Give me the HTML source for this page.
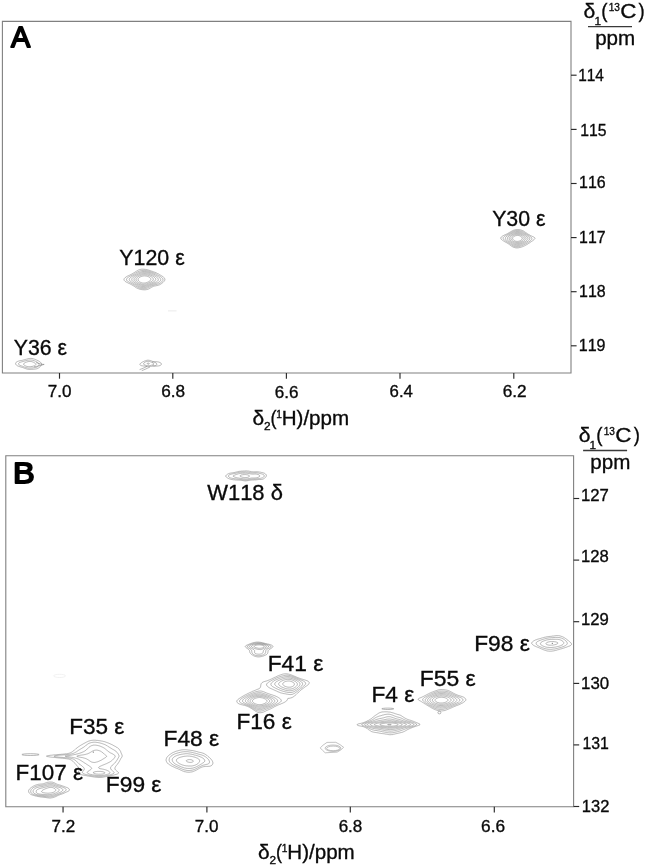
<!DOCTYPE html>
<html lang="en"><head><meta charset="utf-8"><title>Aromatic 13C-1H correlation spectra</title>
<style>html,body{margin:0;padding:0;background:#fff}svg{display:block}text{font-family:"Liberation Sans", "DejaVu Sans", sans-serif;fill:#0a0a0a;stroke:#0a0a0a;stroke-width:.34;font-kerning:none}.fr{fill:none;stroke:#808080;stroke-width:1.1}.tk{stroke:#2a2a2a;stroke-width:1.15}.c{fill:none;stroke:#747474;stroke-width:.52;stroke-linejoin:round}.cl{fill:none;stroke:#9a9a9a;stroke-width:.6;stroke-linejoin:round}.cf{fill:none;stroke:#dcdcdc;stroke-width:.6}.pl{fill:#000;stroke:#000;stroke-width:1.8;stroke-linejoin:round;stroke-linecap:round}</style></head><body>
<svg width="645" height="868" viewBox="0 0 645 868">
<rect width="645" height="868" fill="#fff"/>
<path class="fr" d="M2.40 21.40H571.00V373.00H2.40Z"/>
<text class="pl" x="10.94" y="47.40" font-size="29.80" textLength="19.21" lengthAdjust="spacingAndGlyphs">A</text>
<text x="583.61" y="18.20" font-size="20.80" textLength="11.79" lengthAdjust="spacingAndGlyphs">δ</text>
<text x="594.46" y="25.30" font-size="11.80">1</text>
<text x="601.13" y="18.20" font-size="20.80" textLength="6.28" lengthAdjust="spacingAndGlyphs">(</text>
<text x="608.63" y="11.40" font-size="10.40" textLength="11.21" lengthAdjust="spacingAndGlyphs">13</text>
<text x="620.16" y="18.20" font-size="20.80" textLength="16.19" lengthAdjust="spacingAndGlyphs">C</text>
<text x="638.59" y="18.20" font-size="20.80" textLength="6.15" lengthAdjust="spacingAndGlyphs">)</text>
<line x1="588.00" y1="26.60" x2="632.00" y2="26.60" stroke="#3a3a3a" stroke-width="1.3"/>
<text x="595.17" y="44.80" font-size="20.80" textLength="40.09" lengthAdjust="spacingAndGlyphs">ppm</text>
<line class="tk" x1="571.00" y1="75.20" x2="576.60" y2="75.20"/>
<line class="tk" x1="571.00" y1="129.40" x2="576.60" y2="129.40"/>
<line class="tk" x1="571.00" y1="183.50" x2="576.60" y2="183.50"/>
<line class="tk" x1="571.00" y1="237.60" x2="576.60" y2="237.60"/>
<line class="tk" x1="571.00" y1="291.70" x2="576.60" y2="291.70"/>
<line class="tk" x1="571.00" y1="345.80" x2="576.60" y2="345.80"/>
<text x="578.13" y="81.00" font-size="17.20" textLength="25.73" lengthAdjust="spacingAndGlyphs">114</text>
<text x="580.30" y="136.20" font-size="17.20" textLength="26.26" lengthAdjust="spacingAndGlyphs">115</text>
<text x="579.08" y="187.80" font-size="17.20" textLength="26.62" lengthAdjust="spacingAndGlyphs">116</text>
<text x="579.09" y="243.30" font-size="17.20" textLength="26.51" lengthAdjust="spacingAndGlyphs">117</text>
<text x="579.09" y="296.70" font-size="17.20" textLength="26.61" lengthAdjust="spacingAndGlyphs">118</text>
<text x="578.78" y="350.80" font-size="17.20" textLength="26.78" lengthAdjust="spacingAndGlyphs">119</text>
<line class="tk" x1="59.50" y1="373.00" x2="59.50" y2="378.70"/>
<line class="tk" x1="172.80" y1="373.00" x2="172.80" y2="378.70"/>
<line class="tk" x1="286.40" y1="373.00" x2="286.40" y2="378.70"/>
<line class="tk" x1="400.00" y1="373.00" x2="400.00" y2="378.70"/>
<line class="tk" x1="513.80" y1="373.00" x2="513.80" y2="378.70"/>
<text x="47.72" y="396.80" font-size="17.20" textLength="23.74" lengthAdjust="spacingAndGlyphs">7.0</text>
<text x="161.13" y="397.00" font-size="17.20" textLength="23.92" lengthAdjust="spacingAndGlyphs">6.8</text>
<text x="274.83" y="398.30" font-size="17.20" textLength="23.72" lengthAdjust="spacingAndGlyphs">6.6</text>
<text x="389.55" y="397.10" font-size="17.20" textLength="23.34" lengthAdjust="spacingAndGlyphs">6.4</text>
<text x="502.73" y="397.30" font-size="17.20" textLength="23.94" lengthAdjust="spacingAndGlyphs">6.2</text>
<text x="252.42" y="424.80" font-size="20.60" textLength="11.67" lengthAdjust="spacingAndGlyphs">δ</text>
<text x="264.00" y="430.40" font-size="11.60" textLength="6.59" lengthAdjust="spacingAndGlyphs">2</text>
<text x="270.48" y="424.80" font-size="20.60" textLength="6.03" lengthAdjust="spacingAndGlyphs">(</text>
<text x="276.22" y="417.80" font-size="10.20">1</text>
<text x="281.71" y="424.80" font-size="20.60" textLength="67.44" lengthAdjust="spacingAndGlyphs">H)/ppm</text>
<path class="c" d="M140.6 269.4 141.1 269.3 141.8 269.2 142.6 269.2 143.4 269.2 144.2 269.3 144.9 269.3 145.5 269.4 146.1 269.5 146.9 269.6 147.6 269.8 148.0 269.9 148.8 270.2 149.2 270.3 150.0 270.5 150.4 270.7 151.1 270.9 151.5 271.1 152.3 271.3 152.7 271.5 153.5 271.8 153.8 271.9 154.6 272.2 155.0 272.3 155.8 272.6 156.2 272.8 156.8 273.1 157.3 273.4 157.7 273.6 158.4 273.9 158.9 274.2 159.3 274.5 159.8 274.8 160.4 275.1 160.8 275.4 161.2 275.6 161.9 276.0 162.4 276.3 162.8 276.6 163.2 276.8 163.7 277.3 164.1 277.7 164.4 278.1 164.7 278.6 164.9 279.3 164.8 280.1 164.6 280.6 164.3 281.0 163.9 281.5 163.5 281.9 163.1 282.3 162.8 282.6 162.3 283.0 161.7 283.5 161.2 283.8 160.8 284.1 160.4 284.3 159.7 284.7 159.3 284.9 158.6 285.1 158.1 285.3 157.3 285.5 156.9 285.6 156.2 285.7 155.4 285.9 155.0 285.9 154.2 286.1 153.5 286.3 153.1 286.5 152.5 286.8 151.9 287.1 151.5 287.3 151.0 287.6 150.4 288.0 150.0 288.2 149.6 288.5 148.9 288.8 148.4 289.1 148.0 289.2 147.3 289.5 146.5 289.6 146.1 289.7 145.3 289.8 144.5 289.8 143.8 289.8 143.0 289.7 142.3 289.7 141.8 289.6 141.1 289.5 140.3 289.3 139.9 289.2 139.1 289.0 138.6 288.8 138.0 288.6 137.6 288.4 136.8 288.0 136.4 287.8 136.0 287.5 135.4 287.2 134.9 286.8 134.5 286.5 134.1 286.3 133.6 285.9 133.0 285.5 132.5 285.3 132.1 285.0 131.5 284.7 131.0 284.4 130.6 284.2 129.9 283.9 129.4 283.6 129.0 283.5 128.3 283.1 127.9 282.9 127.3 282.6 126.7 282.3 126.3 282.1 125.8 281.8 125.2 281.4 124.8 281.0 124.4 280.6 124.1 280.1 124.0 279.7 124.0 279.2 124.3 278.5 124.6 278.1 125.0 277.7 125.6 277.3 125.9 277.0 126.3 276.8 126.9 276.4 127.5 276.1 127.9 275.9 128.6 275.6 129.0 275.4 129.5 275.2 130.2 274.8 130.6 274.6 131.2 274.4 131.8 274.0 132.1 273.8 132.7 273.5 133.3 273.2 133.7 272.9 134.1 272.7 134.7 272.3 135.2 271.9 135.6 271.7 136.0 271.4 136.6 271.1 137.2 270.7 137.6 270.5 138.1 270.2 138.7 269.9 139.1 269.8 139.9 269.5 140.6 269.4ZM141.0 270.6 141.4 270.6 142.2 270.5 143.0 270.4 143.8 270.4 144.5 270.4 145.3 270.5 146.1 270.6 146.6 270.6 147.3 270.8 148.0 270.9 148.4 271.1 149.2 271.3 149.8 271.5 150.4 271.7 151.0 271.9 151.5 272.1 152.0 272.3 152.7 272.5 153.1 272.7 153.8 273.0 154.2 273.2 155.0 273.5 155.4 273.7 155.9 273.9 156.6 274.3 156.9 274.5 157.4 274.8 158.1 275.2 158.5 275.4 158.9 275.6 159.5 276.0 160.0 276.3 160.4 276.6 160.8 276.8 161.4 277.3 161.9 277.7 162.4 278.1 162.7 278.5 162.9 278.9 163.0 279.7 162.8 280.6 162.5 281.0 162.2 281.4 161.8 281.8 161.3 282.2 160.8 282.6 160.4 282.9 160.0 283.1 159.4 283.5 158.9 283.7 158.5 283.9 157.7 284.1 157.2 284.3 156.6 284.5 155.8 284.6 155.4 284.7 154.6 284.9 154.0 285.1 153.5 285.3 152.8 285.5 152.3 285.7 151.8 285.9 151.1 286.3 150.7 286.5 150.2 286.8 149.6 287.1 149.2 287.3 148.6 287.6 148.0 287.9 147.6 288.0 146.9 288.3 146.4 288.4 145.7 288.6 144.9 288.7 144.2 288.7 143.4 288.7 142.6 288.6 141.8 288.5 141.3 288.4 140.7 288.3 139.9 288.1 139.5 288.0 138.7 287.7 138.3 287.5 137.7 287.2 137.2 286.9 136.8 286.7 136.2 286.3 135.6 286.0 135.2 285.7 134.9 285.5 134.3 285.1 133.7 284.7 133.3 284.5 132.9 284.3 132.3 283.9 131.8 283.6 131.4 283.4 130.8 283.0 130.2 282.7 129.8 282.5 129.2 282.2 128.7 281.9 128.3 281.6 127.9 281.4 127.3 281.0 126.9 280.6 126.6 280.1 126.5 279.3 126.7 278.7 127.1 278.2 127.5 277.8 127.9 277.5 128.3 277.3 128.9 276.8 129.4 276.6 129.8 276.3 130.4 276.0 131.0 275.7 131.4 275.5 132.0 275.2 132.5 274.9 132.9 274.7 133.4 274.4 134.1 274.0 134.5 273.8 134.9 273.5 135.5 273.1 136.0 272.8 136.4 272.6 136.9 272.3 137.6 271.9 138.0 271.7 138.5 271.5 139.1 271.2 139.5 271.1 140.3 270.8 141.0 270.6ZM141.0 271.9 141.4 271.8 142.2 271.6 143.0 271.5 143.8 271.5 144.5 271.5 145.3 271.5 146.1 271.6 146.9 271.7 147.6 271.9 148.0 272.0 148.8 272.2 149.2 272.3 150.0 272.6 150.4 272.7 151.1 273.0 151.5 273.1 152.3 273.5 152.7 273.6 153.4 273.9 153.8 274.2 154.2 274.4 155.0 274.8 155.4 275.0 155.8 275.2 156.5 275.6 156.9 275.9 157.3 276.1 157.8 276.4 158.5 276.8 158.9 277.2 159.3 277.5 159.7 277.8 160.0 278.2 160.4 278.6 160.8 279.3 160.7 280.1 160.4 280.8 160.0 281.2 159.7 281.6 159.3 281.9 158.8 282.2 158.1 282.6 157.7 282.8 157.1 283.0 156.6 283.2 155.9 283.5 155.4 283.6 154.6 283.8 154.2 284.0 153.5 284.2 153.1 284.4 152.3 284.7 151.9 284.8 151.2 285.1 150.7 285.3 150.4 285.5 149.6 285.9 149.2 286.1 148.7 286.3 148.0 286.7 147.6 286.8 146.9 287.1 146.5 287.2 145.7 287.4 144.9 287.5 144.2 287.6 143.8 287.6 143.4 287.6 142.6 287.5 141.8 287.4 141.1 287.3 140.6 287.2 139.9 286.9 139.4 286.8 138.7 286.5 138.3 286.3 137.7 285.9 137.2 285.7 136.8 285.4 136.3 285.1 135.6 284.7 135.2 284.5 134.9 284.2 134.3 283.9 133.7 283.5 133.3 283.2 132.9 283.0 132.4 282.6 131.8 282.2 131.4 282.0 131.0 281.7 130.6 281.4 130.1 281.0 129.7 280.6 129.4 280.1 129.2 279.3 129.4 278.8 129.8 278.2 130.2 277.8 130.6 277.5 131.0 277.2 131.5 276.8 132.1 276.4 132.5 276.2 132.9 276.0 133.5 275.6 134.1 275.2 134.5 275.0 134.9 274.8 135.6 274.4 136.0 274.1 136.4 273.9 137.0 273.5 137.6 273.2 138.0 273.0 138.6 272.7 139.1 272.5 139.7 272.3 140.3 272.1 141.0 271.9ZM142.6 272.7 143.0 272.7 143.8 272.6 144.5 272.6 145.3 272.6 146.1 272.7 146.5 272.7 147.3 272.8 148.0 273.0 148.4 273.1 149.2 273.3 149.7 273.5 150.4 273.8 150.8 273.9 151.5 274.3 151.9 274.4 152.6 274.8 153.1 275.0 153.5 275.2 154.2 275.6 154.6 275.9 155.0 276.1 155.5 276.4 156.1 276.8 156.6 277.2 156.9 277.5 157.3 277.8 157.7 278.3 158.1 278.8 158.3 279.3 158.2 280.1 158.0 280.6 157.6 281.0 157.1 281.4 156.6 281.8 156.2 282.0 155.7 282.2 155.0 282.5 154.6 282.7 153.8 283.0 153.5 283.1 152.7 283.4 152.3 283.6 151.7 283.9 151.1 284.1 150.7 284.3 150.0 284.6 149.6 284.8 149.0 285.1 148.4 285.4 148.0 285.5 147.3 285.8 146.9 286.0 146.1 286.2 145.4 286.3 144.9 286.4 144.2 286.5 143.4 286.5 142.6 286.5 141.9 286.3 141.4 286.3 140.7 286.1 140.3 285.9 139.5 285.7 139.1 285.5 138.4 285.1 138.0 284.9 137.6 284.7 136.9 284.3 136.4 284.0 136.0 283.7 135.6 283.4 135.0 283.0 134.5 282.6 134.1 282.4 133.7 282.1 133.3 281.7 132.9 281.4 132.5 281.0 132.1 280.6 131.8 279.7 131.9 278.9 132.1 278.4 132.5 277.9 132.9 277.5 133.3 277.2 133.8 276.8 134.3 276.4 134.9 276.1 135.2 275.8 135.6 275.6 136.3 275.2 136.8 274.9 137.2 274.7 137.7 274.4 138.3 274.1 138.7 273.9 139.5 273.5 139.9 273.4 140.7 273.1 141.1 273.0 141.8 272.8 142.6 272.7ZM141.9 273.9 142.6 273.8 143.4 273.7 144.2 273.6 144.9 273.6 145.7 273.7 146.5 273.8 147.3 273.9 147.6 274.0 148.4 274.2 148.9 274.4 149.6 274.6 150.0 274.8 150.7 275.1 151.1 275.3 151.8 275.6 152.3 275.9 152.7 276.1 153.2 276.4 153.8 276.8 154.2 277.2 154.6 277.5 155.0 277.9 155.4 278.3 155.7 278.9 155.8 279.7 155.4 280.4 155.0 280.8 154.6 281.1 154.2 281.4 153.6 281.8 153.1 282.1 152.7 282.3 151.9 282.6 151.5 282.8 151.1 283.0 150.4 283.4 150.0 283.6 149.3 283.9 148.8 284.1 148.4 284.3 147.6 284.6 147.3 284.7 146.5 285.0 146.0 285.1 145.3 285.3 144.5 285.4 143.8 285.4 143.0 285.4 142.2 285.3 141.4 285.1 141.1 285.0 140.3 284.8 139.9 284.6 139.1 284.3 138.7 284.1 138.3 283.9 137.6 283.5 137.2 283.2 136.8 282.9 136.4 282.6 135.9 282.2 135.4 281.8 134.9 281.4 134.6 281.0 134.3 280.6 134.1 280.1 134.0 279.3 134.1 278.8 134.5 278.1 134.9 277.7 135.2 277.3 135.6 277.0 136.0 276.7 136.4 276.4 137.0 276.0 137.6 275.7 138.0 275.5 138.5 275.2 139.1 274.9 139.5 274.7 140.3 274.4 140.7 274.3 141.4 274.1 141.9 273.9ZM143.9 274.8 144.5 274.7 145.3 274.8 145.7 274.8 146.5 274.9 147.3 275.0 147.8 275.2 148.4 275.4 149.1 275.6 149.6 275.8 150.0 276.0 150.7 276.4 151.1 276.6 151.5 276.9 152.0 277.3 152.5 277.7 152.9 278.1 153.1 278.5 153.3 279.3 153.1 280.1 152.7 280.6 152.3 281.0 151.9 281.2 151.5 281.5 151.0 281.8 150.4 282.2 150.0 282.4 149.5 282.6 148.8 283.0 148.4 283.1 147.6 283.5 147.3 283.6 146.5 283.9 146.1 284.0 145.3 284.1 144.5 284.2 143.8 284.3 143.8 284.3 143.0 284.3 142.2 284.2 141.4 284.0 141.1 283.9 140.3 283.6 139.9 283.4 139.2 283.0 138.7 282.8 138.3 282.5 137.9 282.2 137.4 281.8 136.9 281.4 136.6 281.0 136.3 280.6 136.0 279.9 136.0 279.3 136.1 278.9 136.4 278.3 136.8 277.8 137.2 277.4 137.6 277.1 138.0 276.8 138.6 276.4 139.1 276.1 139.5 275.9 140.3 275.6 140.7 275.5 141.4 275.2 141.8 275.1 142.6 274.9 143.4 274.8 143.9 274.8ZM143.4 276.0 144.2 275.9 144.9 275.9 145.7 276.0 146.1 276.0 146.9 276.2 147.6 276.4 148.0 276.6 148.7 276.8 149.2 277.1 149.6 277.4 150.0 277.7 150.4 278.1 150.7 278.6 150.9 279.3 150.7 279.9 150.4 280.4 150.0 280.8 149.6 281.1 149.2 281.4 148.5 281.8 148.0 282.0 147.6 282.2 146.9 282.5 146.5 282.6 145.7 282.9 144.9 283.0 144.5 283.0 143.8 283.1 143.1 283.0 142.6 283.0 141.8 282.8 141.3 282.6 140.7 282.4 140.3 282.2 139.6 281.8 139.1 281.4 138.7 281.0 138.4 280.6 138.2 280.1 138.1 279.3 138.3 278.6 138.7 278.1 139.1 277.7 139.5 277.4 139.9 277.2 140.5 276.8 141.1 276.6 141.6 276.4 142.2 276.2 143.0 276.1 143.4 276.0Z"/>
<path class="c" d="M514.8 229.9 515.5 229.7 516.2 229.6 516.9 229.5 517.6 229.5 518.3 229.5 519.0 229.6 519.7 229.7 520.4 229.8 520.7 229.9 521.4 230.1 521.8 230.3 522.5 230.5 522.8 230.7 523.5 231.0 523.8 231.2 524.2 231.5 524.7 231.8 525.2 232.2 525.6 232.4 525.9 232.7 526.4 233.0 526.9 233.4 527.3 233.6 527.7 233.9 528.1 234.1 528.7 234.5 529.1 234.7 529.5 234.9 530.1 235.3 530.5 235.5 531.0 235.7 531.5 236.0 531.9 236.2 532.6 236.5 532.9 236.7 533.4 236.9 534.0 237.2 534.3 237.4 534.7 237.7 535.0 238.4 534.7 239.0 534.3 239.4 534.0 239.7 533.6 240.0 533.1 240.4 532.6 240.8 532.2 241.0 531.9 241.2 531.4 241.6 530.9 241.9 530.5 242.2 530.1 242.5 529.8 242.7 529.2 243.1 528.7 243.4 528.4 243.6 528.0 243.9 527.4 244.3 527.0 244.5 526.6 244.7 526.0 245.1 525.6 245.3 525.2 245.5 524.6 245.8 524.2 246.0 523.7 246.2 523.2 246.5 522.8 246.6 522.1 246.9 521.7 247.0 521.1 247.2 520.4 247.4 520.0 247.5 519.3 247.6 518.6 247.8 518.3 247.8 517.6 247.9 516.9 247.9 516.2 247.9 515.5 247.8 515.1 247.7 514.4 247.5 514.0 247.4 513.4 247.2 513.0 247.0 512.3 246.6 512.0 246.4 511.6 246.2 511.1 245.8 510.6 245.5 510.2 245.2 509.9 244.9 509.5 244.7 509.0 244.3 508.5 243.9 508.1 243.7 507.8 243.5 507.2 243.1 506.7 242.8 506.4 242.6 505.8 242.3 505.4 242.1 505.0 241.9 504.5 241.6 504.0 241.3 503.6 241.0 503.2 240.8 502.6 240.4 502.2 240.1 501.9 239.8 501.5 239.5 501.2 239.1 500.8 238.4 500.8 238.0 500.9 237.7 501.2 237.2 501.5 236.8 501.9 236.5 502.5 236.1 502.9 235.8 503.3 235.6 503.9 235.3 504.3 235.1 504.7 234.9 505.4 234.6 505.7 234.5 506.4 234.2 506.7 234.0 507.2 233.8 507.8 233.4 508.1 233.2 508.6 233.0 509.2 232.6 509.5 232.4 509.9 232.2 510.6 231.8 510.9 231.6 511.3 231.4 511.9 231.0 512.3 230.8 512.7 230.6 513.4 230.3 513.7 230.2 514.4 230.0 514.8 229.9ZM515.7 230.6 516.2 230.6 516.9 230.5 517.6 230.5 518.3 230.5 519.0 230.6 519.3 230.6 520.0 230.8 520.7 231.0 521.1 231.1 521.8 231.3 522.1 231.5 522.8 231.8 523.2 232.0 523.6 232.2 524.2 232.6 524.5 232.8 524.9 233.0 525.4 233.4 525.9 233.7 526.3 233.9 526.6 234.2 527.2 234.5 527.7 234.9 528.0 235.1 528.4 235.3 529.0 235.7 529.4 236.0 529.8 236.2 530.2 236.5 530.8 236.9 531.2 237.2 531.5 237.6 531.8 238.0 531.9 238.4 531.9 239.0 531.6 239.6 531.2 240.0 530.9 240.4 530.5 240.7 530.1 241.0 529.8 241.3 529.4 241.6 528.9 241.9 528.4 242.3 528.0 242.5 527.7 242.7 527.1 243.1 526.6 243.4 526.3 243.6 525.7 243.9 525.2 244.1 524.9 244.3 524.2 244.6 523.8 244.8 523.3 245.1 522.8 245.3 522.4 245.5 521.8 245.7 521.4 245.9 520.7 246.1 520.3 246.2 519.7 246.4 519.0 246.6 518.6 246.7 517.9 246.8 517.2 246.8 516.5 246.8 515.8 246.8 515.1 246.6 514.8 246.6 514.1 246.3 513.7 246.2 513.0 245.8 512.7 245.7 512.3 245.4 511.7 245.1 511.3 244.7 510.9 244.5 510.6 244.2 510.1 243.9 509.6 243.5 509.2 243.3 508.8 243.0 508.4 242.7 507.8 242.3 507.4 242.1 507.1 241.9 506.5 241.6 506.0 241.3 505.7 241.0 505.3 240.8 504.7 240.4 504.3 240.1 504.0 239.8 503.6 239.4 503.3 238.9 503.1 238.4 503.2 237.7 503.4 237.3 503.8 236.9 504.3 236.5 504.7 236.2 505.0 236.0 505.5 235.7 506.0 235.4 506.4 235.2 507.0 234.9 507.4 234.6 507.8 234.5 508.3 234.1 508.8 233.8 509.2 233.6 509.6 233.4 510.2 233.0 510.6 232.8 510.9 232.6 511.6 232.2 512.0 232.0 512.4 231.8 513.0 231.5 513.4 231.3 514.1 231.1 514.4 231.0 515.1 230.8 515.7 230.6ZM514.9 231.8 515.5 231.7 516.2 231.5 516.9 231.5 517.6 231.5 518.3 231.5 519.0 231.6 519.7 231.7 520.1 231.8 520.7 232.0 521.3 232.2 521.8 232.4 522.2 232.6 522.8 232.9 523.2 233.1 523.7 233.4 524.2 233.7 524.5 233.9 525.0 234.1 525.6 234.5 525.9 234.8 526.3 235.0 526.8 235.3 527.3 235.7 527.7 236.0 528.0 236.2 528.4 236.5 528.8 236.9 529.2 237.3 529.5 237.7 529.8 238.2 529.8 238.8 529.7 239.2 529.4 239.8 529.1 240.2 528.7 240.5 528.4 240.8 528.0 241.2 527.4 241.6 527.0 241.8 526.6 242.1 526.2 242.3 525.6 242.7 525.2 242.8 524.7 243.1 524.2 243.4 523.8 243.6 523.2 243.9 522.8 244.1 522.3 244.3 521.8 244.5 521.4 244.7 520.7 245.0 520.4 245.1 519.7 245.3 519.2 245.5 518.6 245.6 517.9 245.7 517.2 245.8 516.5 245.8 515.8 245.7 515.1 245.5 514.8 245.4 514.1 245.2 513.7 245.0 513.0 244.7 512.7 244.5 512.3 244.3 511.8 243.9 511.3 243.6 510.9 243.3 510.6 243.1 510.1 242.7 509.6 242.3 509.2 242.1 508.8 241.8 508.4 241.6 507.9 241.2 507.4 240.9 507.1 240.6 506.7 240.4 506.3 240.0 505.9 239.6 505.6 239.2 505.4 238.7 505.3 238.0 505.5 237.7 505.7 237.3 506.1 236.9 506.5 236.5 507.1 236.1 507.4 235.8 507.8 235.6 508.2 235.3 508.8 234.9 509.2 234.7 509.5 234.5 510.0 234.1 510.6 233.8 510.9 233.6 511.4 233.4 512.0 233.0 512.3 232.8 512.8 232.6 513.4 232.3 513.7 232.2 514.4 231.9 514.9 231.8ZM515.8 232.6 516.2 232.5 516.9 232.4 517.6 232.4 518.3 232.5 519.0 232.6 519.3 232.6 520.0 232.8 520.6 233.0 521.1 233.1 521.6 233.4 522.1 233.6 522.5 233.8 523.2 234.1 523.5 234.3 523.8 234.5 524.5 234.9 524.9 235.2 525.2 235.4 525.6 235.7 526.2 236.1 526.6 236.5 527.0 236.8 527.3 237.2 527.7 237.7 527.9 238.0 528.0 238.8 527.7 239.5 527.3 240.0 527.0 240.3 526.6 240.6 526.3 240.9 525.9 241.2 525.3 241.6 524.9 241.8 524.5 242.0 523.9 242.3 523.5 242.6 523.2 242.7 522.5 243.1 522.1 243.2 521.5 243.5 521.1 243.7 520.6 243.9 520.0 244.1 519.5 244.3 519.0 244.4 518.3 244.6 517.6 244.7 517.2 244.7 516.6 244.7 516.2 244.6 515.5 244.5 514.8 244.3 514.4 244.2 513.8 243.9 513.4 243.7 513.0 243.5 512.4 243.1 512.0 242.9 511.6 242.6 511.2 242.3 510.7 241.9 510.2 241.6 509.9 241.4 509.5 241.1 509.1 240.8 508.7 240.4 508.3 240.0 507.9 239.6 507.6 239.2 507.4 238.8 507.4 238.0 507.5 237.7 507.8 237.2 508.1 236.8 508.5 236.5 508.9 236.1 509.4 235.7 509.9 235.4 510.2 235.1 510.6 234.9 511.2 234.5 511.6 234.2 512.0 234.0 512.5 233.8 513.0 233.5 513.4 233.3 514.1 233.1 514.4 232.9 515.1 232.7 515.8 232.6ZM515.0 233.8 515.5 233.6 516.2 233.5 516.9 233.4 517.6 233.4 518.3 233.4 519.0 233.5 519.7 233.7 520.0 233.8 520.7 234.0 521.1 234.2 521.8 234.5 522.1 234.7 522.6 234.9 523.2 235.2 523.5 235.5 523.9 235.7 524.4 236.1 524.9 236.5 525.2 236.8 525.6 237.2 525.9 237.7 526.0 238.0 526.1 238.8 525.9 239.2 525.6 239.7 525.2 240.1 524.9 240.4 524.4 240.8 523.8 241.1 523.5 241.4 523.2 241.6 522.5 241.9 522.1 242.1 521.7 242.3 521.1 242.6 520.7 242.8 520.0 243.1 519.7 243.2 519.0 243.4 518.3 243.5 517.9 243.6 517.2 243.6 516.5 243.6 515.9 243.5 515.5 243.4 514.8 243.2 514.4 243.1 513.7 242.7 513.4 242.6 513.0 242.3 512.4 241.9 512.0 241.7 511.6 241.4 511.3 241.2 510.8 240.8 510.4 240.4 510.0 240.0 509.7 239.6 509.4 239.2 509.2 238.5 509.2 238.1 509.3 237.7 509.5 237.2 509.9 236.8 510.2 236.4 510.6 236.1 511.1 235.7 511.6 235.4 512.0 235.1 512.3 234.9 513.0 234.5 513.4 234.4 513.9 234.1 514.4 233.9 515.0 233.8ZM515.9 234.5 516.5 234.4 517.2 234.4 517.9 234.4 518.6 234.5 519.0 234.6 519.7 234.7 520.3 234.9 520.7 235.1 521.2 235.3 521.8 235.6 522.1 235.8 522.5 236.1 523.0 236.5 523.5 236.9 523.8 237.3 524.1 237.7 524.2 238.0 524.2 238.8 524.0 239.2 523.8 239.6 523.4 240.0 522.9 240.4 522.5 240.7 522.1 240.9 521.7 241.2 521.1 241.5 520.7 241.7 520.1 241.9 519.7 242.1 519.0 242.3 518.6 242.4 517.9 242.5 517.2 242.6 516.5 242.5 515.8 242.4 515.5 242.3 514.8 242.1 514.4 241.9 513.7 241.6 513.4 241.4 513.0 241.1 512.5 240.8 512.1 240.4 511.7 240.0 511.3 239.6 511.1 239.2 510.9 238.8 510.9 238.0 511.0 237.7 511.3 237.2 511.6 236.8 512.0 236.4 512.4 236.1 513.0 235.7 513.4 235.5 513.7 235.3 514.4 235.0 514.8 234.8 515.5 234.6 515.9 234.5ZM515.6 235.7 516.2 235.6 516.9 235.5 517.6 235.4 518.3 235.5 519.0 235.6 519.3 235.7 520.0 236.0 520.4 236.2 521.0 236.5 521.4 236.8 521.8 237.1 522.1 237.6 522.3 238.0 522.3 238.8 522.1 239.2 521.8 239.6 521.3 240.0 520.8 240.4 520.4 240.6 520.0 240.8 519.3 241.1 519.0 241.2 518.3 241.3 517.6 241.4 516.9 241.4 516.2 241.3 515.5 241.2 515.1 241.0 514.6 240.8 514.1 240.5 513.7 240.2 513.4 239.9 513.0 239.5 512.7 238.9 512.6 238.4 512.7 237.9 513.0 237.3 513.4 236.9 513.7 236.6 514.1 236.4 514.6 236.1 515.1 235.9 515.6 235.7Z"/>
<path class="c" d="M27.9 358.8 28.3 358.6 29.3 358.5 30.2 358.4 31.1 358.4 32.1 358.5 33.0 358.7 33.4 358.8 34.4 359.1 34.8 359.3 35.6 359.5 36.2 359.8 36.7 360.1 37.2 360.3 38.0 360.7 38.6 361.0 39.0 361.3 39.5 361.6 40.0 361.9 40.5 362.3 40.9 362.7 41.4 363.4 41.5 363.9 41.4 364.7 41.3 365.1 40.9 365.8 40.5 366.3 40.2 366.7 39.8 367.0 39.4 367.4 38.8 367.8 38.2 368.2 37.6 368.5 37.2 368.7 36.2 368.9 35.6 369.0 34.8 369.1 33.9 369.2 33.0 369.2 32.1 369.3 31.1 369.3 30.2 369.4 29.3 369.4 28.3 369.3 27.4 369.2 26.8 369.0 26.0 368.8 25.5 368.6 24.6 368.3 24.2 368.1 23.4 367.8 22.8 367.6 22.3 367.4 21.4 367.2 20.9 367.0 20.0 366.8 19.5 366.6 18.6 366.3 18.1 366.1 17.6 365.9 16.9 365.5 16.4 365.1 16.0 364.7 15.8 364.3 15.6 363.5 15.8 362.9 16.2 362.3 16.7 361.9 17.2 361.7 17.6 361.4 18.5 361.1 19.0 361.0 20.0 360.7 20.4 360.6 21.4 360.5 21.9 360.3 22.8 360.2 23.7 359.9 24.2 359.8 25.1 359.6 25.5 359.4 26.4 359.2 26.9 359.0 27.9 358.8ZM27.3 360.3 27.9 360.2 28.8 360.1 29.7 360.0 30.7 360.0 31.6 360.1 32.5 360.2 33.0 360.3 33.9 360.6 34.4 360.8 35.2 361.1 35.8 361.4 36.2 361.6 36.7 361.9 37.4 362.3 37.9 362.7 38.4 363.1 38.7 363.5 39.0 364.2 39.1 364.7 39.0 365.1 38.6 365.8 38.2 366.3 37.7 366.7 37.2 366.9 36.7 367.2 35.9 367.4 35.3 367.6 34.4 367.7 33.4 367.8 33.0 367.9 32.1 368.0 31.1 368.0 30.2 368.1 29.3 368.1 28.3 368.1 27.4 367.9 26.9 367.8 26.0 367.6 25.5 367.4 24.6 367.1 24.2 366.9 23.5 366.7 22.8 366.4 22.3 366.2 21.4 365.9 20.9 365.7 20.2 365.5 19.5 365.1 19.0 364.8 18.6 364.3 18.5 363.9 18.6 363.4 19.0 362.9 19.5 362.6 20.2 362.3 20.9 362.1 21.5 361.9 22.3 361.7 23.0 361.5 23.7 361.3 24.4 361.1 25.1 360.9 25.8 360.7 26.5 360.5 27.3 360.3ZM28.7 361.5 29.3 361.5 30.2 361.5 30.8 361.5 31.6 361.6 32.5 361.9 33.0 362.1 33.6 362.3 34.3 362.7 34.8 363.1 35.3 363.5 35.6 363.9 35.8 364.3 35.8 364.7 35.3 365.3 34.8 365.6 34.4 365.9 33.4 366.1 33.0 366.3 32.1 366.4 31.1 366.6 30.3 366.7 29.7 366.7 28.8 366.7 28.3 366.6 27.4 366.5 26.5 366.3 26.0 366.1 25.5 365.9 24.8 365.5 24.2 365.1 23.8 364.7 23.6 364.3 23.7 363.8 24.2 363.2 24.6 362.9 25.1 362.6 25.8 362.3 26.5 362.1 26.9 361.9 27.9 361.7 28.7 361.5Z"/>
<path class="c" d="M36 362.6C39 363.4 41.5 364.6 44.2 364.4M34 366.8C37 366.4 40 365.6 44.2 364.4"/>
<path class="c" d="M146.7 360.4 147.1 360.3 147.8 360.2 148.4 360.2 149.1 360.3 149.7 360.4 150.1 360.5 150.8 360.7 151.1 360.8 151.8 361.1 152.1 361.2 152.8 361.5 153.1 361.6 153.8 361.9 154.1 362.0 154.8 362.3 155.1 362.5 155.8 362.8 156.1 363.1 156.5 363.4 156.8 364.1 156.6 364.9 156.2 365.3 155.8 365.5 155.4 365.7 154.8 365.9 154.1 366.1 153.5 366.1 153.1 366.2 152.5 366.2 151.8 366.3 151.1 366.3 150.4 366.4 149.8 366.5 149.4 366.5 148.8 366.6 148.1 366.6 147.4 366.6 147.1 366.5 146.4 366.4 145.8 366.3 145.1 366.2 144.8 366.1 144.1 366.0 143.4 366.0 142.8 365.9 142.1 365.8 141.5 365.7 141.1 365.6 140.5 365.3 140.1 364.9 139.9 364.5 140.1 363.9 140.4 363.5 140.7 363.2 141.2 362.8 141.7 362.5 142.1 362.3 142.5 362.0 143.1 361.7 143.4 361.6 144.1 361.3 144.4 361.1 145.1 360.9 145.4 360.8 146.1 360.5 146.7 360.4ZM146.3 361.6 146.8 361.5 147.4 361.4 148.1 361.3 148.8 361.4 149.4 361.5 149.9 361.6 150.4 361.8 151.0 362.0 151.4 362.2 151.9 362.4 152.5 362.7 152.8 362.9 153.3 363.3 153.7 363.7 153.5 364.5 153.1 364.7 152.6 364.9 152.1 365.0 151.4 365.2 151.1 365.3 150.4 365.5 149.8 365.6 149.1 365.7 148.4 365.7 147.8 365.7 147.1 365.6 146.4 365.5 145.9 365.3 145.4 365.2 144.8 364.9 144.4 364.8 143.9 364.5 143.5 364.1 143.7 363.3 144.1 362.8 144.4 362.6 144.8 362.3 145.3 362.0 145.8 361.8 146.3 361.6ZM147.4 363.3 147.4 363.2 147.8 363.1 148.1 363.1 148.4 363.1 148.8 363.1 149.1 363.3 149.1 363.3 149.4 363.7 149.1 363.9 148.9 364.1 148.8 364.1 148.4 364.2 148.1 364.2 147.8 364.1 147.6 364.1 147.4 363.9 147.2 363.7 147.4 363.3Z"/>
<path class="c" d="M152 362.2C155 361.3 160.6 361.6 161.4 363.8C161.8 366 156.5 366.6 152.5 365.6M147 366.4C144.5 367.8 141.5 368.9 139.6 369.6M150 367C146.8 368.6 143.6 370 141.8 370.6"/>
<line class="cf" x1="168" y1="310.9" x2="176.5" y2="310.9" stroke-width="1"/>
<text x="119.33" y="264.90" font-size="21.80" textLength="65.38" lengthAdjust="spacingAndGlyphs">Y120 ε</text>
<text x="492.13" y="226.10" font-size="21.80" textLength="53.27" lengthAdjust="spacingAndGlyphs">Y30 ε</text>
<text x="13.83" y="354.80" font-size="21.80" textLength="53.17" lengthAdjust="spacingAndGlyphs">Y36 ε</text>
<path class="fr" d="M5.80 455.70H573.60V806.70H5.80Z"/>
<text class="pl" x="12.93" y="482.60" font-size="29.80" textLength="21.68" lengthAdjust="spacingAndGlyphs">B</text>
<text x="578.71" y="442.10" font-size="20.80" textLength="11.79" lengthAdjust="spacingAndGlyphs">δ</text>
<text x="589.56" y="449.20" font-size="11.80">1</text>
<text x="596.23" y="442.10" font-size="20.80" textLength="6.28" lengthAdjust="spacingAndGlyphs">(</text>
<text x="603.73" y="435.30" font-size="10.40" textLength="11.21" lengthAdjust="spacingAndGlyphs">13</text>
<text x="615.26" y="442.10" font-size="20.80" textLength="16.19" lengthAdjust="spacingAndGlyphs">C</text>
<text x="633.69" y="442.10" font-size="20.80" textLength="6.15" lengthAdjust="spacingAndGlyphs">)</text>
<line x1="583.10" y1="450.50" x2="627.10" y2="450.50" stroke="#3a3a3a" stroke-width="1.3"/>
<text x="590.27" y="468.70" font-size="20.80" textLength="40.09" lengthAdjust="spacingAndGlyphs">ppm</text>
<line class="tk" x1="573.60" y1="498.50" x2="579.20" y2="498.50"/>
<line class="tk" x1="573.60" y1="560.10" x2="579.20" y2="560.10"/>
<line class="tk" x1="573.60" y1="621.70" x2="579.20" y2="621.70"/>
<line class="tk" x1="573.60" y1="683.40" x2="579.20" y2="683.40"/>
<line class="tk" x1="573.60" y1="744.90" x2="579.20" y2="744.90"/>
<line class="tk" x1="573.60" y1="806.50" x2="579.20" y2="806.50"/>
<text x="581.03" y="500.50" font-size="17.20" textLength="27.92" lengthAdjust="spacingAndGlyphs">127</text>
<text x="581.03" y="562.30" font-size="17.20" textLength="27.79" lengthAdjust="spacingAndGlyphs">128</text>
<text x="581.03" y="625.40" font-size="17.20" textLength="27.86" lengthAdjust="spacingAndGlyphs">129</text>
<text x="581.02" y="689.40" font-size="17.20" textLength="28.14" lengthAdjust="spacingAndGlyphs">130</text>
<text x="582.39" y="749.10" font-size="17.20" textLength="26.48" lengthAdjust="spacingAndGlyphs">131</text>
<text x="581.84" y="811.80" font-size="17.20" textLength="27.59" lengthAdjust="spacingAndGlyphs">132</text>
<line class="tk" x1="63.05" y1="806.70" x2="63.05" y2="812.40"/>
<line class="tk" x1="206.90" y1="806.70" x2="206.90" y2="812.40"/>
<line class="tk" x1="350.30" y1="806.70" x2="350.30" y2="812.40"/>
<line class="tk" x1="494.30" y1="806.70" x2="494.30" y2="812.40"/>
<text x="51.42" y="831.80" font-size="17.20" textLength="23.73" lengthAdjust="spacingAndGlyphs">7.2</text>
<text x="194.83" y="832.00" font-size="17.20" textLength="23.64" lengthAdjust="spacingAndGlyphs">7.0</text>
<text x="338.63" y="831.80" font-size="17.20" textLength="23.71" lengthAdjust="spacingAndGlyphs">6.8</text>
<text x="481.02" y="831.80" font-size="17.20" textLength="24.04" lengthAdjust="spacingAndGlyphs">6.6</text>
<text x="258.02" y="858.70" font-size="20.60" textLength="11.67" lengthAdjust="spacingAndGlyphs">δ</text>
<text x="269.60" y="864.30" font-size="11.60" textLength="6.59" lengthAdjust="spacingAndGlyphs">2</text>
<text x="276.08" y="858.70" font-size="20.60" textLength="6.03" lengthAdjust="spacingAndGlyphs">(</text>
<text x="281.82" y="851.70" font-size="10.20">1</text>
<text x="287.31" y="858.70" font-size="20.60" textLength="67.44" lengthAdjust="spacingAndGlyphs">H)/ppm</text>
<path class="c" d="M244.7 471.0 245.5 470.9 246.3 470.9 247.1 470.9 247.6 471.0 248.2 471.0 249.0 471.2 249.7 471.3 250.2 471.4 251.0 471.6 251.4 471.7 252.2 471.8 253.0 471.8 253.8 471.9 254.6 471.8 255.4 471.8 256.1 471.8 256.9 471.8 257.7 471.8 258.5 471.9 259.3 472.0 259.7 472.1 260.5 472.2 261.3 472.4 261.7 472.5 262.5 472.6 262.9 472.8 263.7 473.0 264.1 473.1 264.8 473.5 265.2 473.8 265.6 474.1 266.0 474.5 266.2 474.9 266.4 475.6 266.2 476.3 266.0 476.7 265.6 477.2 265.2 477.6 264.8 478.0 264.5 478.3 264.1 478.6 263.7 478.8 262.9 479.2 262.5 479.3 261.7 479.4 260.9 479.5 260.1 479.5 259.3 479.5 258.9 479.5 258.1 479.6 257.3 479.7 256.5 479.8 255.8 479.9 255.1 479.9 254.6 479.9 253.8 480.0 253.0 480.0 252.2 480.0 251.4 480.1 250.6 480.2 250.0 480.3 249.4 480.4 248.6 480.5 248.1 480.6 247.4 480.7 246.7 480.8 245.9 480.9 245.1 480.9 244.3 480.8 243.5 480.7 243.0 480.6 242.3 480.5 241.5 480.4 240.7 480.3 240.3 480.2 239.5 480.2 238.7 480.1 238.0 480.1 237.2 480.1 236.4 480.0 235.6 480.0 235.0 479.9 234.4 479.8 233.6 479.8 232.8 479.7 232.1 479.5 231.6 479.5 230.8 479.3 230.4 479.2 229.7 479.0 229.3 478.8 228.5 478.5 228.1 478.3 227.7 478.0 227.2 477.8 226.7 477.4 226.2 477.0 225.9 476.7 225.7 476.0 225.7 476.0 226.1 475.3 226.5 474.9 226.9 474.6 227.3 474.3 227.7 474.1 228.2 473.8 228.9 473.6 229.3 473.4 230.0 473.2 230.6 473.1 231.2 473.0 232.0 472.9 232.8 472.8 233.2 472.7 234.0 472.6 234.8 472.4 235.2 472.3 236.0 472.1 236.4 472.0 237.2 471.8 237.8 471.7 238.4 471.5 239.1 471.4 239.7 471.3 240.3 471.3 241.1 471.2 241.9 471.1 242.7 471.1 243.5 471.0 244.3 471.0 244.7 471.0ZM239.3 472.4 239.9 472.3 240.7 472.2 241.5 472.2 242.3 472.1 243.1 472.1 243.9 472.1 244.7 472.1 245.5 472.0 246.3 472.1 247.1 472.1 247.8 472.2 248.6 472.3 249.2 472.4 249.8 472.5 250.6 472.7 251.2 472.8 251.8 472.8 252.6 472.9 253.4 472.9 254.2 472.8 255.0 472.8 255.8 472.8 256.5 472.8 257.3 472.9 258.1 473.0 258.6 473.1 259.3 473.3 260.1 473.5 260.5 473.6 261.3 473.8 261.7 473.9 262.5 474.2 262.9 474.3 263.3 474.5 263.8 474.9 264.1 475.3 264.3 476.0 264.1 476.5 263.7 477.0 263.3 477.3 262.9 477.6 262.4 477.8 261.7 478.0 261.2 478.1 260.5 478.3 259.7 478.4 259.3 478.5 258.5 478.6 257.7 478.7 257.2 478.8 256.5 478.9 255.8 479.0 255.0 479.1 254.2 479.1 253.4 479.1 252.6 479.1 251.8 479.2 251.4 479.2 250.6 479.3 249.8 479.4 249.1 479.5 248.6 479.6 247.8 479.8 247.1 479.9 246.7 479.9 245.9 480.0 245.1 480.0 244.3 479.9 243.9 479.9 243.1 479.8 242.3 479.6 241.7 479.5 241.1 479.5 240.3 479.4 239.5 479.3 238.7 479.2 238.3 479.2 237.6 479.1 236.8 479.0 236.0 478.9 235.2 478.8 234.8 478.8 234.0 478.6 233.2 478.5 232.8 478.4 232.0 478.3 231.3 478.1 230.8 478.0 230.2 477.8 229.7 477.5 229.3 477.3 228.9 477.0 228.5 476.4 228.4 476.0 228.5 475.6 228.9 475.2 229.3 474.9 229.9 474.5 230.4 474.4 231.1 474.2 231.6 474.1 232.4 473.9 232.9 473.8 233.6 473.7 234.4 473.5 234.8 473.4 235.6 473.3 236.2 473.1 236.8 472.9 237.6 472.8 238.0 472.7 238.7 472.5 239.3 472.4ZM240.2 473.5 240.7 473.4 241.5 473.3 242.3 473.2 243.1 473.2 243.9 473.2 244.7 473.2 245.5 473.2 246.3 473.2 247.1 473.3 247.8 473.4 248.4 473.5 249.0 473.6 249.8 473.7 250.2 473.8 251.0 474.0 251.8 474.0 252.6 474.1 253.4 474.1 254.2 474.0 255.0 474.0 255.8 474.0 256.5 474.1 257.0 474.2 257.7 474.4 258.2 474.5 258.9 474.9 259.3 475.2 259.7 475.5 259.9 476.0 259.7 476.4 259.3 476.7 258.8 477.0 258.1 477.3 257.7 477.5 256.9 477.7 256.5 477.8 255.8 477.9 255.0 478.0 254.2 478.0 253.4 478.0 252.6 478.0 251.8 478.0 251.1 478.1 250.6 478.2 249.8 478.3 249.3 478.5 248.6 478.6 247.8 478.8 247.4 478.8 246.7 478.9 245.9 479.0 245.1 479.0 244.3 478.9 243.6 478.8 243.1 478.8 242.3 478.6 241.5 478.5 241.1 478.5 240.3 478.3 239.5 478.2 238.9 478.1 238.4 478.0 237.6 477.9 237.0 477.8 236.4 477.6 235.6 477.4 235.2 477.3 234.5 477.0 234.0 476.8 233.6 476.6 233.2 476.3 233.2 475.9 233.6 475.5 234.2 475.3 234.8 475.0 235.2 474.9 236.0 474.6 236.4 474.4 237.2 474.2 237.6 474.1 238.4 473.8 238.7 473.8 239.5 473.6 240.2 473.5ZM241.8 474.9 242.3 474.8 243.1 474.7 243.9 474.6 244.7 474.6 245.5 474.6 246.3 474.7 247.1 474.8 247.7 474.9 248.2 475.1 248.7 475.3 249.3 475.6 249.6 476.0 249.4 476.4 249.0 476.8 248.5 477.0 247.8 477.3 247.4 477.4 246.7 477.5 245.9 477.6 245.1 477.6 244.3 477.6 243.5 477.4 243.1 477.4 242.3 477.2 241.8 477.0 241.1 476.8 240.7 476.7 240.2 476.3 240.1 475.6 240.7 475.3 241.1 475.1 241.8 474.9Z"/>
<path class="c" d="M254.7 642.4 255.3 642.3 256.0 642.2 256.7 642.1 257.4 642.1 258.1 642.1 258.8 642.1 259.5 642.2 260.2 642.3 260.8 642.4 261.3 642.5 262.0 642.6 262.6 642.8 263.0 642.9 263.7 643.0 264.2 643.2 264.8 643.3 265.5 643.5 265.8 643.6 266.6 643.7 267.3 643.9 267.6 644.0 268.3 644.1 269.0 644.3 269.4 644.4 270.1 644.6 270.4 644.7 271.1 644.9 271.5 645.1 272.2 645.5 272.5 645.7 272.9 646.2 272.9 646.6 272.7 647.0 272.4 647.4 272.0 647.8 271.5 648.1 271.1 648.4 270.8 648.6 270.2 648.9 269.7 649.2 269.4 649.5 269.0 649.7 268.6 650.1 268.3 650.4 268.0 651.2 268.0 652.0 267.9 652.4 267.7 653.1 267.5 653.5 267.2 653.9 266.8 654.3 266.3 654.7 265.8 654.9 265.5 655.1 264.8 655.4 264.4 655.6 263.8 655.8 263.4 656.0 262.7 656.2 262.3 656.3 261.6 656.5 261.2 656.6 260.6 656.7 259.9 656.8 259.2 656.9 258.5 656.9 257.8 656.9 257.1 656.8 256.4 656.7 255.8 656.6 255.3 656.4 254.6 656.2 254.3 656.1 253.7 655.8 253.2 655.5 252.9 655.3 252.4 655.0 251.8 654.7 251.4 654.4 251.1 654.1 250.7 653.7 250.4 653.3 250.0 652.8 249.9 652.4 249.7 651.6 249.6 651.2 249.4 650.4 249.2 650.1 248.9 649.7 248.4 649.3 247.9 648.9 247.6 648.7 247.2 648.4 246.8 648.1 246.3 647.8 245.8 647.4 245.5 647.1 245.2 646.6 245.5 646.0 245.8 645.7 246.2 645.5 246.9 645.1 247.2 645.0 247.8 644.7 248.3 644.5 248.8 644.3 249.3 644.1 249.7 643.9 250.4 643.7 250.7 643.5 251.4 643.3 251.8 643.2 252.5 642.9 253.0 642.8 253.6 642.6 254.3 642.5 254.7 642.4ZM254.5 643.2 255.0 643.1 255.7 643.0 256.4 642.9 257.1 642.8 257.8 642.8 258.5 642.8 259.2 642.9 259.9 642.9 260.6 643.0 261.3 643.1 261.6 643.2 262.3 643.3 263.0 643.4 263.5 643.5 264.1 643.7 264.8 643.9 265.1 644.0 265.8 644.2 266.4 644.3 266.9 644.5 267.6 644.7 268.0 644.8 268.7 645.0 269.0 645.1 269.7 645.4 270.1 645.6 270.5 645.8 270.9 646.2 270.8 647.0 270.4 647.4 270.1 647.6 269.7 647.8 269.1 648.1 268.7 648.4 268.3 648.6 267.6 648.9 267.3 649.1 266.9 649.4 266.5 649.7 266.1 650.1 265.8 650.6 265.7 651.2 265.7 652.0 265.6 652.7 265.4 653.1 265.1 653.5 264.8 653.9 264.3 654.3 263.7 654.6 263.4 654.8 262.7 655.0 262.3 655.2 261.6 655.4 261.3 655.5 260.6 655.6 259.9 655.7 259.2 655.7 258.5 655.7 257.8 655.7 257.1 655.6 256.4 655.5 255.9 655.4 255.3 655.3 254.7 655.0 254.3 654.9 253.9 654.7 253.3 654.3 252.9 653.9 252.5 653.6 252.2 653.1 252.0 652.7 251.8 652.0 251.8 651.6 251.7 650.8 251.4 650.1 251.1 649.7 250.7 649.4 250.4 649.1 250.0 648.9 249.5 648.5 249.0 648.2 248.6 648.0 248.3 647.7 247.8 647.4 247.5 647.0 247.4 646.2 247.7 645.8 248.3 645.5 248.6 645.3 249.0 645.1 249.7 644.7 250.0 644.6 250.7 644.3 251.1 644.2 251.7 643.9 252.2 643.8 252.9 643.6 253.2 643.5 253.9 643.3 254.5 643.2ZM257.1 643.5 257.8 643.5 258.5 643.5 259.2 643.5 259.7 643.5 260.2 643.6 260.9 643.7 261.6 643.8 262.3 643.9 262.7 644.0 263.4 644.1 264.1 644.3 264.4 644.4 265.1 644.6 265.5 644.7 266.2 645.0 266.6 645.1 267.3 645.4 267.6 645.6 268.1 645.8 268.5 646.2 268.5 647.0 268.0 647.4 267.6 647.7 267.3 647.9 266.7 648.1 266.2 648.4 265.8 648.6 265.4 648.9 264.8 649.3 264.4 649.6 264.1 649.9 263.7 650.3 263.4 650.8 263.3 651.2 263.2 652.0 263.0 652.6 262.7 653.1 262.3 653.4 262.0 653.6 261.4 653.9 260.9 654.0 260.2 654.1 259.5 654.2 258.8 654.2 258.1 654.2 257.4 654.1 256.7 654.0 256.2 653.9 255.7 653.7 255.3 653.5 254.9 653.1 254.6 652.6 254.5 652.0 254.6 651.5 254.7 650.8 254.5 650.4 254.2 650.1 253.8 649.7 253.2 649.3 252.9 649.1 252.5 648.9 251.8 648.5 251.4 648.3 251.1 648.1 250.5 647.8 250.0 647.5 249.7 647.1 249.4 646.6 249.7 645.9 250.0 645.6 250.4 645.4 251.0 645.1 251.4 644.9 251.9 644.7 252.5 644.5 253.0 644.3 253.6 644.1 254.3 644.0 254.6 643.9 255.3 643.8 256.0 643.7 256.7 643.6 257.1 643.5ZM256.7 644.3 257.1 644.3 257.8 644.2 258.5 644.2 259.2 644.2 259.9 644.2 260.6 644.3 261.0 644.3 261.6 644.4 262.3 644.5 263.0 644.7 263.4 644.8 264.1 645.0 264.4 645.1 265.1 645.4 265.5 645.6 265.9 645.8 266.3 646.2 266.2 647.0 265.8 647.4 265.5 647.6 265.1 647.8 264.6 648.1 264.1 648.4 263.7 648.6 263.0 648.9 262.7 649.0 262.0 649.3 261.6 649.4 260.9 649.5 260.2 649.6 259.5 649.5 258.8 649.5 258.1 649.4 257.7 649.3 257.1 649.2 256.4 649.0 256.0 648.9 255.3 648.7 254.8 648.5 254.3 648.4 253.7 648.1 253.2 647.9 252.9 647.8 252.2 647.4 251.8 647.1 251.5 646.6 251.8 646.0 252.2 645.7 252.5 645.4 253.2 645.1 253.6 645.0 254.3 644.8 254.6 644.7 255.3 644.5 256.0 644.4 256.7 644.3ZM257.0 645.1 257.4 645.0 258.1 645.0 258.8 644.9 259.5 644.9 260.2 645.0 260.9 645.0 261.3 645.1 262.0 645.2 262.7 645.4 263.0 645.6 263.7 645.8 264.1 646.2 264.2 646.6 264.1 647.0 263.6 647.4 263.0 647.7 262.7 647.8 262.0 648.1 261.6 648.1 260.9 648.2 260.2 648.3 259.5 648.3 258.8 648.3 258.1 648.2 257.8 648.1 257.1 648.0 256.4 647.8 256.0 647.7 255.3 647.5 255.0 647.3 254.4 647.0 254.1 646.6 254.3 646.1 254.6 645.8 255.3 645.5 255.7 645.4 256.4 645.2 257.0 645.1Z"/>
<path class="c" d="M283.5 674.0 284.2 673.9 285.0 673.8 285.8 673.8 286.6 673.8 287.4 673.9 288.2 674.0 288.6 674.1 289.4 674.3 289.9 674.5 290.6 674.7 291.1 674.9 291.9 675.2 292.3 675.3 293.1 675.7 293.5 675.8 294.1 676.1 294.7 676.3 295.1 676.5 295.9 676.8 296.3 677.0 297.1 677.3 297.5 677.5 298.2 677.8 298.7 677.9 299.3 678.2 299.9 678.4 300.4 678.6 301.1 678.8 301.6 679.0 302.3 679.2 302.9 679.4 303.5 679.6 304.3 679.8 304.7 679.9 305.5 680.2 305.9 680.3 306.7 680.6 307.1 680.7 307.8 681.1 308.3 681.4 308.7 681.8 309.1 682.3 309.2 682.7 309.1 683.3 308.8 683.9 308.5 684.4 308.1 684.8 307.6 685.2 307.1 685.5 306.7 685.8 306.3 686.1 305.9 686.4 305.2 686.8 304.7 687.2 304.3 687.5 303.9 687.8 303.5 688.1 302.9 688.5 302.4 688.9 301.9 689.3 301.5 689.6 301.1 690.0 300.7 690.3 300.3 690.6 299.9 691.0 299.5 691.4 299.0 691.8 298.6 692.2 298.1 692.6 297.7 693.0 297.2 693.4 296.8 693.8 296.4 694.3 296.0 694.7 295.5 695.1 295.1 695.5 294.7 695.8 294.3 696.2 293.9 696.5 293.5 696.7 292.8 697.1 292.3 697.4 291.9 697.6 291.0 697.9 290.6 698.0 289.8 698.2 289.0 698.3 288.2 698.4 287.8 698.5 287.5 699.2 287.4 699.6 287.0 700.3 286.6 700.8 286.2 701.2 285.8 701.5 285.4 701.7 284.9 702.1 284.2 702.4 283.8 702.6 283.3 702.9 282.6 703.2 282.2 703.4 281.4 703.7 281.0 703.9 280.3 704.2 279.8 704.3 279.2 704.6 278.6 704.8 278.2 705.0 277.4 705.3 277.0 705.5 276.3 705.8 275.8 706.1 275.4 706.3 274.7 706.6 274.2 706.9 273.8 707.2 273.2 707.5 272.6 707.8 272.2 708.1 271.7 708.3 270.9 708.7 270.5 708.9 270.0 709.1 269.3 709.4 268.9 709.6 268.1 709.9 267.7 710.1 267.2 710.3 266.5 710.6 266.1 710.8 265.4 711.2 264.9 711.4 264.5 711.6 263.7 712.0 263.3 712.1 262.5 712.4 262.1 712.5 261.3 712.6 260.5 712.7 259.7 712.7 258.9 712.6 258.1 712.4 257.7 712.3 257.0 712.0 256.5 711.7 256.1 711.5 255.5 711.2 254.9 710.8 254.5 710.5 254.1 710.3 253.6 709.9 253.0 709.5 252.4 709.2 252.0 708.9 251.6 708.6 251.1 708.3 250.4 707.9 250.0 707.6 249.6 707.4 249.0 707.0 248.4 706.8 248.0 706.6 247.2 706.2 246.8 706.1 246.0 705.8 245.6 705.7 244.8 705.4 244.4 705.3 243.6 705.2 242.8 705.0 242.4 704.9 241.6 704.7 241.2 704.6 240.4 704.3 239.8 704.2 239.2 703.9 238.8 703.7 238.1 703.3 237.6 702.9 237.2 702.5 236.9 702.1 236.8 701.3 237.1 700.4 237.4 700.0 237.8 699.6 238.3 699.2 238.8 698.8 239.2 698.5 239.6 698.3 240.0 698.0 240.7 697.6 241.2 697.2 241.6 697.0 242.0 696.7 242.7 696.3 243.2 696.0 243.6 695.8 244.1 695.5 244.8 695.1 245.2 694.9 245.6 694.7 246.4 694.3 246.8 694.1 247.3 693.8 248.0 693.5 248.4 693.3 249.0 693.0 249.6 692.7 250.0 692.5 250.8 692.2 251.2 692.0 251.7 691.8 252.4 691.4 252.9 691.2 253.5 691.0 254.1 690.7 254.5 690.5 255.3 690.2 255.7 690.1 256.5 689.7 256.9 689.6 257.5 689.3 258.1 689.1 258.5 688.9 259.2 688.5 259.7 688.2 260.1 687.8 260.5 687.2 260.6 686.8 260.7 686.0 260.8 685.2 260.9 684.7 261.1 683.9 261.3 683.5 261.7 683.0 262.1 682.6 262.6 682.3 263.3 681.9 263.7 681.8 264.5 681.5 264.9 681.4 265.7 681.2 266.2 681.1 266.9 680.8 267.5 680.6 268.1 680.4 268.6 680.2 269.3 679.9 269.7 679.8 270.5 679.4 270.9 679.2 271.4 679.0 272.2 678.6 272.6 678.4 273.1 678.2 273.8 677.8 274.2 677.6 274.8 677.3 275.4 677.1 275.8 676.9 276.5 676.5 277.0 676.3 277.4 676.1 278.2 675.8 278.6 675.6 279.4 675.3 279.8 675.1 280.5 674.9 281.0 674.7 281.8 674.5 282.2 674.3 283.0 674.1 283.5 674.0ZM285.5 675.3 286.2 675.2 287.0 675.2 287.8 675.2 288.3 675.3 289.0 675.4 289.8 675.6 290.2 675.7 291.0 675.9 291.5 676.1 292.3 676.4 292.7 676.5 293.5 676.8 293.9 677.0 294.7 677.3 295.1 677.5 295.7 677.8 296.3 678.0 296.7 678.2 297.5 678.5 297.9 678.6 298.7 679.0 299.1 679.2 299.7 679.4 300.3 679.7 300.7 679.8 301.5 680.2 301.9 680.4 302.5 680.6 303.1 680.9 303.5 681.1 304.1 681.5 304.7 681.9 305.1 682.2 305.5 682.7 305.7 683.1 305.6 683.9 305.4 684.4 305.1 684.8 304.7 685.2 304.3 685.6 303.9 686.0 303.4 686.4 302.9 686.8 302.4 687.2 301.9 687.7 301.5 688.0 301.1 688.3 300.7 688.6 300.3 689.0 299.9 689.3 299.3 689.7 298.8 690.1 298.3 690.5 297.9 690.9 297.5 691.2 297.1 691.5 296.7 691.8 296.2 692.2 295.6 692.6 295.1 693.0 294.7 693.2 294.3 693.5 293.5 693.8 293.1 694.0 292.4 694.3 291.9 694.4 291.0 694.5 290.2 694.6 289.4 694.5 288.6 694.4 287.8 694.3 287.4 694.2 286.6 694.1 285.8 693.9 285.3 693.8 284.6 693.7 283.8 693.6 283.1 693.4 282.6 693.3 281.8 693.1 281.4 693.0 280.6 692.8 280.1 692.6 279.4 692.3 279.0 692.2 278.2 691.8 277.8 691.7 277.1 691.4 276.6 691.1 276.2 690.9 275.4 690.6 275.0 690.4 274.4 690.1 273.8 689.8 273.4 689.7 272.6 689.3 272.2 689.1 271.7 688.9 270.9 688.6 270.5 688.4 269.9 688.1 269.3 687.7 268.9 687.5 268.5 687.2 268.0 686.8 267.5 686.4 267.1 686.0 266.8 685.6 266.5 684.8 266.5 684.8 266.7 683.9 267.0 683.5 267.4 683.1 267.9 682.7 268.5 682.3 268.9 682.0 269.3 681.7 269.8 681.5 270.5 681.1 270.9 680.8 271.3 680.6 271.9 680.2 272.6 679.9 273.0 679.7 273.5 679.4 274.2 679.1 274.6 678.9 275.2 678.6 275.8 678.3 276.2 678.1 277.0 677.8 277.4 677.6 278.1 677.3 278.6 677.2 279.2 676.9 279.8 676.7 280.4 676.5 281.0 676.3 281.8 676.1 282.2 676.0 283.0 675.8 283.4 675.7 284.2 675.5 285.0 675.3 285.5 675.3ZM257.4 691.4 258.1 691.2 258.9 691.1 259.7 691.0 260.5 691.0 261.3 691.1 262.1 691.2 262.5 691.4 263.3 691.6 263.7 691.8 264.5 692.1 264.9 692.3 265.7 692.6 266.1 692.8 266.6 693.0 267.3 693.3 267.7 693.4 268.5 693.7 268.9 693.9 269.7 694.1 270.1 694.3 270.9 694.5 271.5 694.7 272.2 694.9 272.8 695.1 273.4 695.3 273.9 695.5 274.6 695.7 275.0 695.9 275.8 696.2 276.2 696.4 276.8 696.7 277.4 697.0 277.8 697.2 278.4 697.6 279.0 697.9 279.4 698.2 279.8 698.5 280.2 698.8 280.6 699.2 281.0 699.7 281.3 700.4 281.1 701.3 280.8 701.7 280.4 702.1 279.8 702.5 279.4 702.8 279.0 703.0 278.5 703.3 277.8 703.7 277.4 703.9 276.9 704.2 276.2 704.5 275.8 704.7 275.3 705.0 274.6 705.4 274.2 705.6 273.7 705.8 273.0 706.2 272.6 706.4 272.2 706.6 271.3 707.0 270.9 707.2 270.4 707.5 269.7 707.7 269.3 707.9 268.5 708.2 268.1 708.4 267.4 708.7 266.9 708.9 266.4 709.1 265.7 709.4 265.3 709.6 264.5 709.9 264.1 710.1 263.5 710.3 262.9 710.6 262.4 710.8 261.7 710.9 260.9 711.1 260.1 711.1 259.3 711.1 258.5 711.0 257.7 710.8 257.3 710.7 256.5 710.4 256.1 710.2 255.5 709.9 254.9 709.6 254.5 709.3 254.0 709.1 253.3 708.7 252.9 708.4 252.4 708.2 252.0 707.9 251.3 707.5 250.8 707.2 250.4 707.0 249.9 706.6 249.2 706.3 248.8 706.1 248.3 705.8 247.6 705.5 247.2 705.3 246.4 705.0 246.0 704.8 245.2 704.6 244.8 704.4 244.0 704.2 243.6 704.0 242.8 703.7 242.4 703.6 241.7 703.3 241.2 703.1 240.8 702.9 240.3 702.5 239.8 702.1 239.6 701.7 239.5 700.9 239.7 700.4 240.0 700.0 240.4 699.6 240.8 699.2 241.3 698.8 241.9 698.4 242.4 698.1 242.8 697.8 243.2 697.6 243.9 697.1 244.4 696.9 244.8 696.7 245.4 696.3 246.0 696.0 246.4 695.8 247.1 695.5 247.6 695.2 248.0 695.0 248.8 694.7 249.2 694.5 249.7 694.3 250.4 693.9 250.8 693.7 251.5 693.4 252.0 693.2 252.5 693.0 253.3 692.7 253.7 692.5 254.5 692.2 254.9 692.1 255.7 691.8 256.1 691.7 256.9 691.5 257.4 691.4ZM284.4 676.9 285.0 676.8 285.8 676.7 286.6 676.6 287.4 676.5 288.2 676.6 289.0 676.6 289.8 676.8 290.4 676.9 291.0 677.1 291.8 677.3 292.3 677.5 293.0 677.8 293.5 677.9 294.0 678.2 294.7 678.4 295.1 678.6 295.9 678.9 296.3 679.1 297.0 679.4 297.5 679.6 297.9 679.8 298.7 680.2 299.1 680.4 299.5 680.6 300.2 681.1 300.7 681.4 301.1 681.6 301.5 681.9 301.9 682.3 302.3 682.8 302.6 683.5 302.6 684.4 302.3 684.9 301.9 685.5 301.5 686.0 301.1 686.4 300.7 686.8 300.3 687.2 299.9 687.5 299.5 687.9 299.1 688.2 298.7 688.5 298.2 688.9 297.7 689.3 297.1 689.7 296.7 690.0 296.3 690.3 295.9 690.5 295.2 691.0 294.7 691.3 294.3 691.5 293.6 691.8 293.1 692.0 292.5 692.2 291.9 692.3 291.0 692.5 290.2 692.5 289.4 692.5 288.6 692.5 287.8 692.4 287.0 692.2 286.6 692.1 285.8 692.0 285.0 691.8 284.6 691.7 283.8 691.5 283.4 691.4 282.6 691.1 282.1 691.0 281.4 690.7 280.9 690.5 280.2 690.3 279.8 690.1 279.0 689.8 278.6 689.6 277.9 689.3 277.4 689.1 277.0 688.9 276.2 688.5 275.8 688.3 275.2 688.1 274.6 687.7 274.2 687.5 273.6 687.2 273.0 686.8 272.6 686.6 272.2 686.3 271.7 685.9 271.3 685.4 271.0 684.8 270.9 684.4 271.0 683.9 271.3 683.1 271.7 682.7 272.1 682.3 272.6 681.9 273.0 681.6 273.4 681.3 273.8 681.1 274.4 680.6 275.0 680.4 275.4 680.1 276.0 679.8 276.6 679.6 277.0 679.4 277.8 679.1 278.2 678.9 279.0 678.6 279.4 678.4 280.2 678.2 280.6 678.0 281.4 677.8 281.8 677.6 282.6 677.4 283.0 677.3 283.8 677.1 284.4 676.9ZM256.8 693.0 257.3 692.9 258.1 692.8 258.9 692.7 259.7 692.7 260.5 692.7 261.3 692.8 262.1 693.0 262.5 693.1 263.3 693.4 263.7 693.5 264.5 693.8 264.9 693.9 265.7 694.2 266.1 694.4 266.9 694.7 267.3 694.8 268.0 695.1 268.5 695.3 269.1 695.5 269.7 695.7 270.3 695.9 270.9 696.1 271.4 696.3 272.2 696.6 272.6 696.8 273.3 697.1 273.8 697.3 274.2 697.6 275.0 698.0 275.4 698.2 275.8 698.5 276.2 698.8 276.8 699.2 277.2 699.6 277.5 700.0 277.7 700.9 277.4 701.7 277.1 702.1 276.6 702.5 276.2 702.9 275.8 703.2 275.4 703.4 274.9 703.7 274.2 704.2 273.8 704.4 273.4 704.6 272.7 705.0 272.2 705.3 271.7 705.5 271.1 705.8 270.5 706.1 270.1 706.2 269.3 706.6 268.9 706.7 268.2 707.0 267.7 707.2 267.1 707.5 266.5 707.7 266.1 707.9 265.3 708.2 264.9 708.3 264.1 708.7 263.7 708.8 262.9 709.1 262.5 709.2 261.7 709.5 261.3 709.5 260.5 709.7 259.7 709.7 258.9 709.7 258.1 709.5 257.7 709.4 256.9 709.2 256.5 709.1 255.7 708.8 255.3 708.6 254.6 708.3 254.1 708.0 253.7 707.8 253.1 707.5 252.4 707.1 252.0 706.9 251.6 706.6 250.9 706.2 250.4 706.0 250.0 705.7 249.4 705.4 248.8 705.1 248.4 704.9 247.8 704.6 247.2 704.3 246.8 704.1 246.1 703.7 245.6 703.5 245.2 703.3 244.4 702.9 244.0 702.7 243.6 702.5 243.1 702.1 242.7 701.7 242.5 700.9 242.8 700.0 243.1 699.6 243.5 699.2 244.0 698.8 244.4 698.5 244.8 698.3 245.3 698.0 246.0 697.6 246.4 697.3 246.8 697.1 247.5 696.7 248.0 696.5 248.4 696.2 249.1 695.9 249.6 695.7 250.0 695.5 250.8 695.1 251.2 694.9 251.8 694.7 252.4 694.4 252.9 694.2 253.7 693.9 254.1 693.8 254.9 693.5 255.3 693.4 256.1 693.2 256.8 693.0ZM285.4 678.2 285.8 678.1 286.6 678.0 287.4 677.9 288.2 677.9 289.0 678.0 289.8 678.1 290.3 678.2 291.0 678.4 291.8 678.6 292.3 678.7 293.0 679.0 293.5 679.2 294.1 679.4 294.7 679.7 295.1 679.8 295.9 680.2 296.3 680.4 296.7 680.6 297.4 681.1 297.9 681.3 298.3 681.6 298.7 681.9 299.1 682.3 299.5 682.7 299.9 683.5 300.0 683.9 299.9 684.7 299.7 685.2 299.4 685.6 299.1 686.1 298.7 686.5 298.3 686.9 297.9 687.3 297.4 687.7 296.9 688.1 296.3 688.5 295.9 688.8 295.5 689.0 295.0 689.3 294.3 689.7 293.9 689.9 293.2 690.1 292.7 690.3 291.9 690.5 291.5 690.6 290.6 690.7 289.8 690.8 289.0 690.8 288.2 690.7 287.4 690.6 287.0 690.5 286.2 690.3 285.4 690.2 285.0 690.0 284.2 689.8 283.8 689.7 283.0 689.4 282.6 689.3 281.8 689.0 281.4 688.8 280.6 688.5 280.2 688.3 279.7 688.1 279.0 687.7 278.6 687.5 278.0 687.2 277.4 686.9 277.0 686.6 276.6 686.4 276.0 686.0 275.6 685.6 275.2 685.2 274.9 684.8 274.7 683.9 275.0 683.2 275.3 682.7 275.7 682.3 276.2 681.9 276.6 681.6 277.0 681.3 277.5 681.1 278.2 680.7 278.6 680.5 279.2 680.2 279.8 680.0 280.2 679.8 281.0 679.5 281.4 679.4 282.2 679.1 282.6 678.9 283.4 678.7 283.8 678.6 284.6 678.3 285.4 678.2ZM257.0 694.3 257.7 694.1 258.5 694.1 259.3 694.0 260.1 694.0 260.9 694.1 261.6 694.3 262.1 694.3 262.9 694.5 263.3 694.7 264.1 694.9 264.6 695.1 265.3 695.3 265.7 695.5 266.5 695.8 266.9 695.9 267.7 696.2 268.1 696.4 268.9 696.7 269.3 696.9 270.0 697.1 270.5 697.4 270.9 697.6 271.7 698.0 272.2 698.2 272.6 698.4 273.2 698.8 273.7 699.2 274.1 699.6 274.5 700.0 274.7 700.4 274.7 701.3 274.6 701.7 274.2 702.3 273.8 702.7 273.4 703.0 273.0 703.3 272.4 703.7 271.7 704.1 271.3 704.3 270.9 704.6 270.1 705.0 269.7 705.1 269.2 705.4 268.5 705.7 268.1 705.8 267.3 706.2 266.9 706.3 266.1 706.6 265.7 706.8 265.1 707.0 264.5 707.2 263.9 707.5 263.3 707.7 262.7 707.9 262.1 708.0 261.3 708.2 260.8 708.3 260.1 708.3 259.3 708.4 258.5 708.3 258.1 708.2 257.3 708.1 256.6 707.9 256.1 707.7 255.4 707.5 254.9 707.2 254.4 707.0 253.7 706.7 253.3 706.5 252.8 706.2 252.0 705.8 251.6 705.6 251.2 705.4 250.5 705.0 250.0 704.7 249.6 704.5 249.1 704.2 248.4 703.7 248.0 703.5 247.6 703.2 247.1 702.9 246.5 702.5 246.1 702.1 245.7 701.7 245.5 701.3 245.4 700.4 245.6 700.0 246.0 699.5 246.4 699.1 246.8 698.7 247.3 698.4 247.9 698.0 248.4 697.7 248.8 697.4 249.4 697.1 250.0 696.8 250.4 696.6 251.0 696.3 251.6 696.0 252.0 695.8 252.9 695.5 253.3 695.3 254.0 695.1 254.5 694.9 255.3 694.7 255.7 694.6 256.5 694.4 257.0 694.3ZM286.8 679.4 287.4 679.3 288.2 679.3 289.0 679.4 289.5 679.4 290.2 679.5 291.0 679.7 291.5 679.8 292.3 680.1 292.7 680.2 293.5 680.6 293.9 680.8 294.5 681.1 295.1 681.4 295.5 681.6 295.9 681.9 296.3 682.3 296.8 682.7 297.1 683.2 297.4 683.9 297.3 684.8 297.1 685.3 296.7 685.9 296.3 686.3 295.9 686.7 295.5 687.0 295.1 687.3 294.5 687.7 293.9 688.0 293.5 688.2 292.8 688.5 292.3 688.7 291.5 688.9 291.0 689.0 290.2 689.1 289.4 689.1 288.6 689.0 287.8 689.0 287.4 688.9 286.6 688.8 285.8 688.6 285.4 688.4 284.6 688.2 284.2 688.0 283.4 687.7 283.0 687.6 282.3 687.2 281.8 687.0 281.4 686.8 280.8 686.4 280.2 686.0 279.8 685.7 279.4 685.4 279.0 684.9 278.7 684.4 278.7 683.5 279.0 683.0 279.4 682.5 279.8 682.2 280.2 681.9 280.9 681.5 281.4 681.2 281.8 681.0 282.6 680.6 283.0 680.5 283.6 680.2 284.2 680.0 284.9 679.8 285.4 679.7 286.2 679.5 286.8 679.4ZM256.8 695.5 257.3 695.4 258.1 695.3 258.9 695.2 259.7 695.2 260.5 695.3 261.3 695.4 261.9 695.5 262.5 695.6 263.3 695.8 263.7 695.9 264.5 696.2 264.9 696.3 265.7 696.6 266.1 696.8 266.9 697.1 267.3 697.3 268.0 697.6 268.5 697.8 268.9 698.0 269.7 698.4 270.1 698.7 270.5 698.9 271.0 699.2 271.5 699.6 271.8 700.0 272.2 700.8 272.2 701.3 272.0 701.7 271.7 702.2 271.3 702.6 270.9 702.9 270.4 703.3 269.8 703.7 269.3 704.0 268.9 704.2 268.2 704.6 267.7 704.8 267.3 705.0 266.5 705.3 266.1 705.5 265.3 705.8 264.9 705.9 264.1 706.2 263.7 706.3 262.9 706.6 262.5 706.7 261.7 706.9 260.9 707.0 260.5 707.1 259.7 707.1 258.9 707.1 258.3 707.0 257.7 706.9 256.9 706.8 256.4 706.6 255.7 706.4 255.2 706.2 254.5 705.9 254.1 705.7 253.3 705.4 252.9 705.1 252.4 704.9 251.8 704.6 251.2 704.2 250.8 704.0 250.4 703.7 249.9 703.3 249.3 702.9 248.9 702.5 248.5 702.1 248.2 701.7 248.0 701.3 247.9 700.4 248.1 700.0 248.4 699.6 248.8 699.1 249.2 698.8 249.8 698.4 250.4 698.0 250.8 697.7 251.2 697.5 251.9 697.1 252.4 696.9 252.9 696.7 253.7 696.4 254.1 696.2 254.9 696.0 255.3 695.9 256.1 695.6 256.8 695.5ZM287.2 681.1 287.8 681.0 288.6 681.0 289.4 681.0 289.8 681.1 290.6 681.3 291.2 681.5 291.9 681.7 292.3 681.9 293.0 682.3 293.5 682.6 293.9 683.0 294.2 683.5 294.4 683.9 294.3 684.8 294.1 685.2 293.8 685.6 293.3 686.0 292.7 686.4 292.3 686.6 291.7 686.8 291.0 687.0 290.2 687.2 289.4 687.2 288.6 687.2 287.8 687.1 287.0 687.0 286.5 686.8 285.8 686.6 285.3 686.4 284.6 686.1 284.2 685.8 283.8 685.6 283.4 685.2 283.0 684.8 282.7 683.9 283.0 683.2 283.4 682.7 283.8 682.4 284.2 682.1 284.6 681.9 285.4 681.5 285.8 681.4 286.6 681.2 287.2 681.1ZM256.4 696.7 256.9 696.6 257.7 696.5 258.5 696.4 259.3 696.4 260.1 696.4 260.9 696.5 261.7 696.6 262.4 696.7 262.9 696.8 263.7 697.1 264.1 697.2 264.9 697.5 265.3 697.7 266.0 698.0 266.5 698.2 266.9 698.4 267.7 698.8 268.1 699.1 268.5 699.4 268.9 699.7 269.3 700.2 269.6 700.9 269.5 701.7 269.3 702.1 268.9 702.5 268.4 702.9 267.8 703.3 267.3 703.6 266.9 703.8 266.3 704.2 265.7 704.4 265.3 704.6 264.5 704.9 264.1 705.0 263.3 705.3 262.9 705.4 262.1 705.6 261.3 705.8 260.9 705.8 260.1 705.9 259.3 705.9 258.5 705.9 258.0 705.8 257.3 705.7 256.5 705.5 256.1 705.4 255.3 705.1 254.9 704.9 254.1 704.6 253.7 704.3 253.3 704.1 252.6 703.7 252.0 703.4 251.6 703.1 251.2 702.7 250.8 702.3 250.4 701.8 250.2 701.3 250.2 700.4 250.4 700.0 250.8 699.5 251.2 699.1 251.6 698.8 252.2 698.4 252.9 698.0 253.3 697.8 253.9 697.6 254.5 697.3 255.0 697.1 255.7 696.9 256.4 696.7ZM259.2 697.6 259.7 697.5 260.1 697.6 260.9 697.6 261.7 697.8 262.5 697.9 262.9 698.1 263.7 698.3 264.1 698.5 264.8 698.8 265.3 699.1 265.7 699.3 266.1 699.6 266.6 700.0 266.9 700.5 267.1 701.3 266.9 701.7 266.5 702.2 266.1 702.6 265.7 702.9 265.0 703.3 264.5 703.5 264.1 703.7 263.3 704.0 262.9 704.2 262.1 704.4 261.3 704.6 260.9 704.6 260.1 704.7 259.3 704.7 258.5 704.6 257.9 704.6 257.3 704.4 256.5 704.2 256.1 704.1 255.3 703.8 254.9 703.6 254.4 703.3 253.8 702.9 253.3 702.5 252.9 702.1 252.6 701.7 252.4 701.1 252.4 700.8 252.8 700.0 253.1 699.6 253.7 699.2 254.1 698.9 254.5 698.7 255.2 698.4 255.7 698.2 256.4 698.0 256.9 697.9 257.7 697.7 258.5 697.6 259.2 697.6Z"/>
<path class="c" d="M90.4 740.6 90.9 740.5 91.6 740.4 92.3 740.3 93.1 740.2 93.8 740.2 94.5 740.2 95.3 740.2 96.0 740.3 96.7 740.4 97.5 740.4 98.2 740.5 98.6 740.6 99.3 740.7 100.0 740.8 100.8 740.9 101.4 741.0 101.9 741.1 102.6 741.2 103.3 741.4 103.7 741.5 104.4 741.6 104.9 741.8 105.5 742.0 106.1 742.2 106.6 742.4 107.2 742.6 107.7 742.8 108.2 743.0 108.8 743.2 109.2 743.4 109.9 743.7 110.3 743.9 111.0 744.2 111.4 744.4 111.8 744.6 112.5 744.9 112.9 745.1 113.3 745.4 114.0 745.7 114.3 745.9 114.8 746.2 115.4 746.5 115.8 746.7 116.2 747.0 116.8 747.4 117.3 747.6 117.6 747.9 118.0 748.2 118.4 748.5 118.9 748.9 119.2 749.3 119.5 749.7 119.8 750.2 120.2 750.8 120.5 751.3 120.7 751.7 120.9 752.4 121.1 752.9 121.3 753.4 121.6 754.1 121.8 754.5 122.0 755.2 122.2 755.7 122.1 756.5 121.9 756.9 121.7 757.3 121.3 757.9 120.9 758.4 120.7 758.9 120.5 759.3 120.2 759.7 119.8 760.4 119.6 760.9 119.4 761.3 119.1 761.8 118.7 762.4 118.4 762.9 118.1 763.3 117.9 763.7 117.6 764.1 117.2 764.4 116.9 764.9 116.5 765.3 116.2 765.8 115.8 766.3 115.4 766.8 115.2 767.2 115.1 767.6 114.9 768.4 115.1 769.2 115.3 769.6 115.6 770.0 116.0 770.4 116.5 770.8 116.9 771.1 117.3 771.4 117.6 771.7 118.0 772.0 118.4 772.4 118.5 773.2 118.0 773.6 117.6 773.8 117.3 774.0 116.5 774.3 116.1 774.4 115.4 774.6 114.7 774.8 114.3 774.9 113.6 775.1 113.0 775.2 112.5 775.3 111.8 775.5 111.2 775.6 110.7 775.7 109.9 775.8 109.3 776.0 108.8 776.1 108.1 776.2 107.4 776.4 107.0 776.4 106.3 776.6 105.5 776.7 105.2 776.8 104.4 776.9 103.7 777.1 103.2 777.2 102.6 777.3 101.9 777.4 101.1 777.4 100.4 777.5 99.7 777.5 98.9 777.5 98.2 777.5 97.5 777.4 96.7 777.3 96.0 777.2 95.6 777.2 94.9 777.1 94.2 777.0 93.4 776.9 92.8 776.8 92.3 776.7 91.6 776.6 90.9 776.5 90.3 776.4 89.8 776.3 89.0 776.2 88.3 776.0 87.9 776.0 87.2 775.9 86.5 775.7 85.7 775.6 85.4 775.5 84.6 775.4 83.9 775.2 83.5 775.2 82.8 775.0 82.1 774.8 81.7 774.7 81.0 774.5 80.6 774.4 79.9 774.1 79.5 773.9 79.0 773.6 78.5 773.2 78.3 772.8 78.4 772.0 78.5 771.6 78.8 771.2 79.1 770.5 79.3 770.0 79.4 769.2 79.2 768.4 78.9 768.0 78.7 767.6 78.3 767.2 78.0 766.8 77.6 766.4 77.3 766.0 76.9 765.6 76.6 765.2 76.2 764.8 75.8 764.4 75.5 764.0 75.1 763.6 74.7 763.2 74.4 762.8 74.0 762.3 73.6 761.9 73.3 761.6 72.9 761.2 72.5 760.9 72.0 760.5 71.4 760.1 71.1 759.9 70.6 759.7 70.0 759.4 69.5 759.3 68.9 759.1 68.1 758.9 67.8 758.9 67.0 758.8 66.3 758.7 65.6 758.6 64.9 758.5 64.5 758.4 63.7 758.4 63.0 758.3 62.3 758.2 61.5 758.2 60.8 758.1 60.4 758.1 59.7 758.0 59.0 757.9 58.2 757.9 57.5 757.8 56.8 757.7 56.4 757.7 55.7 757.6 54.9 757.5 54.2 757.5 53.5 757.4 52.7 757.3 52.4 757.3 51.6 757.2 50.9 757.1 50.2 757.0 49.4 756.9 49.1 756.8 48.3 756.7 47.6 756.6 47.0 756.5 46.5 756.2 46.5 756.0 47.2 755.8 47.6 755.7 48.3 755.6 49.1 755.5 49.8 755.4 50.3 755.3 50.9 755.2 51.6 755.2 52.4 755.1 53.1 755.0 53.8 754.9 54.2 754.9 54.9 754.8 55.7 754.8 56.4 754.7 57.1 754.6 57.9 754.6 58.6 754.5 59.0 754.5 59.7 754.4 60.4 754.4 61.2 754.3 61.9 754.2 62.6 754.2 63.4 754.1 63.7 754.1 64.5 754.0 65.2 753.9 65.9 753.8 66.7 753.8 67.0 753.7 67.8 753.6 68.5 753.4 68.9 753.3 69.6 753.1 70.1 752.9 70.7 752.7 71.1 752.5 71.7 752.1 72.2 751.8 72.5 751.6 72.9 751.3 73.4 750.9 73.9 750.5 74.3 750.1 74.7 749.8 75.1 749.5 75.5 749.2 75.8 748.9 76.2 748.5 76.7 748.1 77.2 747.7 77.7 747.4 78.0 747.1 78.4 746.8 78.8 746.6 79.4 746.2 79.9 745.8 80.2 745.6 80.6 745.4 81.3 745.0 81.7 744.7 82.1 744.5 82.7 744.2 83.2 743.9 83.5 743.7 84.2 743.4 84.6 743.1 85.0 742.9 85.6 742.6 86.1 742.3 86.5 742.1 87.1 741.8 87.6 741.6 88.0 741.4 88.7 741.1 89.0 741.0 89.8 740.8 90.4 740.6ZM91.2 742.6 91.6 742.5 92.3 742.4 93.1 742.3 93.8 742.2 94.5 742.2 95.3 742.2 96.0 742.3 96.7 742.4 97.5 742.5 98.0 742.6 98.6 742.7 99.3 742.8 99.9 743.0 100.4 743.1 101.1 743.3 101.5 743.4 102.2 743.6 102.7 743.8 103.3 744.0 103.8 744.2 104.4 744.4 104.8 744.6 105.5 744.9 105.9 745.1 106.4 745.4 107.0 745.7 107.4 745.9 107.7 746.2 108.4 746.6 108.8 746.9 109.2 747.1 109.6 747.4 110.2 747.7 110.7 748.1 111.0 748.3 111.4 748.5 112.1 748.9 112.5 749.2 112.9 749.4 113.5 749.7 114.0 750.0 114.3 750.2 114.9 750.5 115.4 750.9 115.8 751.2 116.2 751.5 116.5 751.9 116.9 752.2 117.3 752.7 117.6 753.2 118.0 753.7 118.2 754.1 118.5 754.5 118.7 755.0 119.0 755.7 119.0 756.5 118.7 757.1 118.4 757.7 118.2 758.1 117.9 758.5 117.6 759.0 117.3 759.6 117.0 760.1 116.7 760.5 116.5 760.9 116.2 761.3 115.8 761.8 115.4 762.2 115.1 762.7 114.7 763.1 114.3 763.4 114.0 763.8 113.6 764.1 113.2 764.5 112.8 764.8 112.4 765.2 112.0 765.6 111.6 766.0 111.2 766.4 110.9 766.8 110.7 767.2 110.5 768.0 110.7 768.8 110.9 769.2 111.3 769.6 111.6 770.0 112.1 770.4 112.5 770.8 112.9 771.1 113.2 771.4 113.6 771.8 114.0 772.3 114.1 772.8 113.9 773.2 113.4 773.6 112.9 773.9 112.5 774.0 111.8 774.3 111.4 774.4 110.7 774.7 110.3 774.8 109.6 775.0 108.8 775.2 108.5 775.2 107.7 775.4 107.0 775.6 106.6 775.6 105.9 775.8 105.2 775.9 104.8 776.0 104.1 776.1 103.3 776.2 102.6 776.3 102.2 776.4 101.5 776.5 100.8 776.5 100.0 776.5 99.3 776.5 98.6 776.5 97.8 776.5 97.1 776.4 96.5 776.4 96.0 776.3 95.3 776.2 94.5 776.1 93.8 776.0 93.4 776.0 92.7 775.9 92.0 775.8 91.2 775.6 90.9 775.6 90.1 775.5 89.4 775.3 88.8 775.2 88.3 775.1 87.6 774.9 87.0 774.8 86.5 774.7 85.7 774.5 85.4 774.4 84.6 774.1 84.2 774.0 83.5 773.7 83.2 773.5 82.8 773.2 82.4 772.5 82.4 772.3 82.7 771.6 83.0 771.2 83.3 770.8 83.7 770.4 83.9 770.0 84.3 769.3 84.3 768.8 84.2 768.4 83.9 767.8 83.5 767.3 83.2 767.0 82.8 766.7 82.4 766.4 82.0 766.0 81.5 765.6 81.0 765.3 80.6 765.0 80.2 764.7 79.9 764.4 79.4 764.1 78.9 763.7 78.5 763.3 78.1 762.9 77.7 762.5 77.3 762.1 76.9 761.8 76.6 761.4 76.2 761.1 75.8 760.7 75.5 760.4 75.0 760.1 74.4 759.7 74.0 759.4 73.6 759.2 72.9 758.9 72.5 758.8 71.8 758.6 71.4 758.5 70.7 758.3 70.0 758.1 69.6 758.1 68.9 758.0 68.1 757.9 67.4 757.8 66.7 757.7 66.1 757.7 65.6 757.7 64.8 757.6 64.1 757.6 63.4 757.5 62.6 757.4 61.9 757.4 61.2 757.3 60.6 757.3 60.1 757.2 59.3 757.2 58.6 757.1 57.9 757.0 57.1 756.9 56.7 756.9 56.0 756.8 55.3 756.7 54.6 756.5 54.2 756.3 54.2 756.0 54.9 755.8 55.3 755.7 56.0 755.6 56.8 755.5 57.5 755.4 58.2 755.3 58.6 755.3 59.3 755.2 60.1 755.2 60.8 755.1 61.5 755.1 62.3 755.0 63.0 755.0 63.7 754.9 64.1 754.9 64.8 754.8 65.6 754.8 66.3 754.7 67.0 754.6 67.8 754.6 68.4 754.5 68.9 754.4 69.6 754.3 70.3 754.2 70.8 754.1 71.4 753.9 72.2 753.8 72.5 753.6 73.3 753.4 73.6 753.2 74.4 752.9 74.7 752.7 75.2 752.5 75.8 752.1 76.2 751.9 76.6 751.7 77.1 751.3 77.7 750.9 78.0 750.7 78.4 750.4 78.9 750.1 79.5 749.7 79.9 749.5 80.2 749.3 80.8 748.9 81.3 748.6 81.7 748.4 82.1 748.1 82.8 747.7 83.2 747.5 83.5 747.3 84.0 747.0 84.5 746.6 85.0 746.2 85.4 745.9 85.7 745.6 86.1 745.3 86.5 745.0 87.1 744.6 87.6 744.2 87.9 744.0 88.3 743.7 89.0 743.4 89.4 743.2 89.9 743.0 90.5 742.8 91.2 742.6ZM92.5 745.4 93.1 745.2 93.8 745.1 94.5 745.1 95.3 745.1 96.0 745.2 96.7 745.3 97.2 745.4 97.8 745.5 98.6 745.7 98.9 745.8 99.7 746.0 100.1 746.2 100.8 746.4 101.1 746.6 101.9 746.9 102.2 747.0 102.9 747.4 103.3 747.6 103.7 747.8 104.2 748.1 104.8 748.5 105.2 748.8 105.5 749.1 105.9 749.4 106.3 749.7 106.8 750.1 107.2 750.5 107.7 750.9 108.1 751.3 108.5 751.6 108.8 751.9 109.2 752.1 109.9 752.5 110.3 752.8 110.7 753.0 111.4 753.3 111.8 753.5 112.2 753.7 112.9 754.1 113.2 754.3 113.6 754.5 114.2 754.9 114.7 755.3 115.0 755.7 115.2 756.1 115.1 756.8 114.8 757.3 114.5 757.7 114.2 758.1 113.9 758.5 113.5 758.9 113.2 759.3 112.8 759.7 112.4 760.1 111.9 760.5 111.4 760.9 111.0 761.2 110.7 761.4 110.3 761.7 109.6 762.1 109.2 762.3 108.8 762.5 108.1 762.8 107.7 763.0 107.3 763.3 106.6 763.6 106.3 763.7 105.5 764.0 105.2 764.2 104.6 764.4 104.1 764.7 103.6 764.8 103.0 765.1 102.6 765.2 101.9 765.6 101.5 765.7 100.8 766.0 100.4 766.2 99.9 766.4 99.3 766.8 98.9 767.1 98.6 767.5 98.6 767.9 98.9 768.2 99.4 768.4 100.0 768.6 100.8 768.8 101.1 768.8 101.9 769.0 102.6 769.1 103.1 769.2 103.7 769.3 104.4 769.5 104.8 769.6 105.5 769.8 106.1 770.0 106.6 770.2 107.1 770.4 107.7 770.7 108.1 770.9 108.7 771.2 109.2 771.6 109.6 771.9 109.9 772.4 110.0 772.8 109.8 773.2 109.3 773.6 108.8 773.8 108.4 774.0 107.7 774.2 107.3 774.4 106.6 774.6 105.9 774.8 105.5 774.8 104.8 775.0 104.1 775.1 103.7 775.2 103.0 775.3 102.2 775.4 101.5 775.5 100.8 775.5 100.0 775.5 99.3 775.5 98.6 775.5 97.8 775.5 97.1 775.4 96.4 775.4 95.6 775.3 94.9 775.2 94.5 775.1 93.8 775.0 93.1 774.9 92.4 774.8 92.0 774.7 91.2 774.5 90.6 774.4 90.1 774.3 89.4 774.1 89.0 773.9 88.3 773.6 87.9 773.4 87.6 773.2 87.2 772.5 87.2 772.4 87.6 771.8 87.9 771.4 88.3 771.2 88.8 770.8 89.4 770.4 89.8 770.2 90.1 770.0 90.7 769.6 91.2 769.2 91.5 768.8 91.7 768.4 91.6 768.0 91.2 767.5 90.9 767.2 90.4 766.8 89.8 766.4 89.4 766.1 89.0 765.9 88.7 765.6 88.1 765.2 87.6 764.9 87.2 764.6 86.8 764.4 86.4 764.1 85.8 763.7 85.4 763.4 85.0 763.2 84.5 762.9 83.9 762.5 83.5 762.2 83.2 762.0 82.7 761.7 82.1 761.3 81.7 761.0 81.3 760.8 80.8 760.5 80.2 760.1 79.9 759.9 79.5 759.7 78.8 759.3 78.4 759.1 77.8 758.9 77.3 758.7 76.7 758.5 76.2 758.3 75.5 758.1 75.1 758.0 74.4 757.8 73.7 757.7 73.3 757.6 72.5 757.4 71.8 757.3 71.4 757.2 70.7 757.1 70.0 757.0 69.2 756.9 68.9 756.9 68.1 756.7 67.4 756.7 66.7 756.6 66.0 756.5 65.6 756.3 65.1 756.1 65.6 756.0 66.3 755.9 67.0 755.8 67.6 755.7 68.1 755.6 68.9 755.6 69.6 755.5 70.3 755.3 70.7 755.3 71.4 755.2 72.2 755.0 72.9 754.9 73.3 754.8 74.0 754.7 74.7 754.5 75.1 754.5 75.8 754.3 76.6 754.1 76.9 754.0 77.7 753.8 78.1 753.7 78.8 753.5 79.4 753.3 79.9 753.2 80.6 752.9 81.0 752.8 81.7 752.5 82.1 752.4 82.6 752.1 83.2 751.9 83.5 751.7 84.2 751.3 84.6 751.1 85.0 750.8 85.5 750.5 86.0 750.1 86.4 749.7 86.8 749.4 87.2 749.0 87.6 748.7 87.9 748.3 88.3 747.9 88.7 747.6 89.0 747.2 89.4 746.9 89.9 746.6 90.5 746.2 90.9 746.0 91.3 745.8 92.0 745.5 92.5 745.4ZM95.9 750.1 96.4 750.1 96.7 750.1 97.5 750.2 98.2 750.4 98.8 750.5 99.3 750.7 99.9 750.9 100.4 751.1 100.8 751.3 101.4 751.7 101.9 752.0 102.2 752.3 102.6 752.6 103.0 752.9 103.4 753.3 103.9 753.7 104.3 754.1 104.8 754.5 105.2 754.8 105.5 755.1 105.9 755.4 106.3 755.7 106.6 756.5 106.3 756.9 105.8 757.3 105.3 757.7 104.8 758.0 104.4 758.2 104.0 758.5 103.3 758.9 103.0 759.1 102.6 759.3 102.0 759.7 101.5 760.0 101.1 760.2 100.5 760.5 100.0 760.7 99.7 760.9 98.9 761.2 98.6 761.4 97.8 761.7 97.5 761.8 96.7 762.0 96.4 762.1 95.6 762.3 94.9 762.4 94.2 762.5 93.4 762.4 92.7 762.3 92.0 762.1 91.6 762.0 91.0 761.7 90.5 761.4 90.1 761.2 89.7 760.9 89.1 760.5 88.7 760.2 88.3 759.9 87.9 759.7 87.3 759.3 86.8 759.0 86.5 758.9 85.7 758.6 85.4 758.4 84.6 758.2 84.3 758.1 83.5 757.9 82.8 757.7 82.4 757.6 81.7 757.5 81.0 757.4 80.5 757.3 79.9 757.2 79.1 757.0 78.4 756.9 78.0 756.8 77.3 756.6 76.9 756.4 76.9 756.0 77.7 755.8 78.0 755.7 78.8 755.5 79.5 755.4 80.2 755.3 80.6 755.2 81.3 755.1 82.1 755.0 82.8 754.9 83.2 754.9 83.9 754.7 84.6 754.6 85.0 754.5 85.7 754.3 86.5 754.1 86.8 754.0 87.6 753.8 87.9 753.6 88.7 753.3 89.0 753.1 89.5 752.9 90.1 752.5 90.5 752.3 90.9 752.1 91.5 751.7 92.0 751.4 92.3 751.2 92.9 750.9 93.4 750.7 93.8 750.5 94.5 750.3 95.3 750.2 95.9 750.1ZM95.6 771.6 96.0 771.5 96.7 771.5 97.5 771.4 98.2 771.4 98.9 771.4 99.7 771.4 100.4 771.4 101.1 771.5 101.9 771.6 102.2 771.6 103.0 771.8 103.7 772.0 104.1 772.1 104.6 772.4 104.9 772.8 104.7 773.2 104.1 773.5 103.7 773.7 103.0 773.9 102.5 774.0 101.9 774.1 101.1 774.2 100.4 774.2 99.7 774.2 98.9 774.2 98.2 774.2 97.5 774.1 96.7 774.1 96.2 774.0 95.6 773.9 94.9 773.7 94.5 773.6 93.8 773.3 93.4 773.0 93.4 772.4 93.8 772.1 94.2 772.0 94.9 771.8 95.6 771.6Z"/>
<path class="c" d="M49.0 782.1 49.6 782.0 50.4 782.0 51.1 782.0 51.8 782.1 52.1 782.1 52.9 782.3 53.4 782.5 53.9 782.7 54.3 782.8 55.0 783.2 55.4 783.4 55.8 783.6 56.5 783.9 56.8 784.1 57.4 784.3 57.9 784.5 58.5 784.7 59.0 784.8 59.7 785.0 60.0 785.1 60.8 785.3 61.1 785.4 61.8 785.7 62.2 785.8 62.9 786.1 63.3 786.2 64.0 786.5 64.3 786.6 65.1 786.8 65.4 787.0 66.1 787.2 66.5 787.4 67.2 787.6 67.6 787.8 67.9 788.0 68.5 788.4 68.9 788.7 69.2 789.1 69.4 789.5 69.4 790.2 69.1 790.6 68.7 790.9 68.3 791.2 67.9 791.4 67.3 791.7 66.9 791.9 66.5 792.0 65.8 792.4 65.4 792.5 64.9 792.8 64.3 793.0 64.0 793.2 63.3 793.5 62.9 793.6 62.3 793.9 61.8 794.0 61.2 794.3 60.8 794.4 60.2 794.6 59.7 794.8 59.2 795.0 58.6 795.2 58.2 795.4 57.5 795.7 57.2 795.9 56.8 796.1 56.1 796.4 55.7 796.6 55.2 796.8 54.7 797.0 54.2 797.2 53.6 797.4 53.0 797.6 52.5 797.7 51.8 797.8 51.1 797.9 50.7 798.0 50.0 798.0 49.3 798.0 48.6 797.9 48.2 797.9 47.5 797.8 46.8 797.7 46.1 797.6 45.7 797.5 45.0 797.5 44.3 797.4 43.5 797.3 42.8 797.2 42.5 797.2 41.7 797.1 41.0 797.0 40.3 796.9 40.0 796.8 39.2 796.7 38.5 796.6 38.0 796.5 37.4 796.4 36.7 796.2 36.1 796.1 35.7 796.0 34.9 795.8 34.6 795.7 33.9 795.5 33.4 795.4 32.8 795.2 32.3 795.0 31.7 794.8 31.3 794.6 30.6 794.3 30.3 794.0 29.9 793.7 29.6 793.4 29.2 793.0 28.9 792.4 28.7 792.0 28.6 791.3 28.6 790.6 28.8 790.0 29.2 789.5 29.5 789.1 29.8 788.7 30.2 788.4 30.6 788.0 31.0 787.7 31.3 787.5 31.7 787.2 32.2 786.9 32.8 786.5 33.1 786.3 33.5 786.1 34.1 785.8 34.6 785.6 35.0 785.4 35.7 785.1 36.0 785.0 36.7 784.8 37.1 784.7 37.8 784.5 38.5 784.3 38.9 784.3 39.6 784.2 40.3 784.1 41.0 784.1 41.7 784.0 42.4 783.9 42.8 783.9 43.5 783.7 43.9 783.6 44.6 783.3 45.0 783.2 45.7 782.9 46.1 782.8 46.8 782.6 47.1 782.5 47.8 782.3 48.6 782.2 49.0 782.1ZM48.4 783.6 48.9 783.5 49.6 783.4 50.4 783.3 51.1 783.3 51.8 783.4 52.5 783.5 52.9 783.6 53.6 783.8 53.9 784.0 54.7 784.3 55.0 784.5 55.4 784.7 56.1 785.0 56.5 785.2 57.1 785.4 57.5 785.6 58.2 785.8 58.6 785.9 59.3 786.1 59.7 786.2 60.4 786.4 60.8 786.5 61.5 786.7 61.9 786.9 62.5 787.1 62.9 787.3 63.6 787.6 64.0 787.7 64.5 788.0 65.1 788.3 65.4 788.6 65.8 788.9 66.1 789.4 66.2 789.8 66.1 790.2 65.8 790.6 65.4 790.9 64.9 791.3 64.3 791.7 64.0 791.9 63.6 792.1 63.0 792.4 62.5 792.6 62.2 792.8 61.5 793.1 61.1 793.2 60.4 793.5 60.0 793.7 59.5 793.9 59.0 794.1 58.6 794.3 57.9 794.6 57.5 794.7 57.0 795.0 56.5 795.2 56.1 795.4 55.4 795.7 55.0 795.8 54.3 796.0 53.9 796.2 53.2 796.4 52.7 796.5 52.1 796.6 51.4 796.7 50.7 796.8 50.4 796.8 49.6 796.9 48.9 796.9 48.2 796.9 47.8 796.8 47.1 796.8 46.4 796.7 45.7 796.6 45.0 796.6 44.3 796.5 43.9 796.5 43.2 796.4 42.5 796.3 41.7 796.2 41.0 796.1 40.7 796.1 40.0 796.0 39.2 795.9 38.5 795.8 38.2 795.7 37.4 795.6 36.7 795.4 36.4 795.3 35.7 795.1 35.1 795.0 34.6 794.8 34.0 794.6 33.5 794.4 33.1 794.3 32.4 793.9 32.1 793.7 31.7 793.4 31.3 793.1 31.0 792.6 30.8 792.0 30.7 791.3 30.8 790.6 31.0 790.1 31.3 789.5 31.6 789.1 32.0 788.7 32.4 788.4 32.8 788.0 33.1 787.8 33.5 787.5 34.0 787.3 34.6 787.0 34.9 786.8 35.7 786.5 36.0 786.4 36.7 786.2 37.1 786.1 37.8 785.9 38.2 785.8 38.9 785.6 39.6 785.5 40.3 785.4 40.7 785.4 41.4 785.3 42.1 785.2 42.8 785.1 43.2 785.0 43.9 784.8 44.5 784.7 45.0 784.5 45.6 784.3 46.1 784.2 46.8 784.0 47.1 783.9 47.8 783.7 48.4 783.6ZM50.4 784.7 51.1 784.7 51.4 784.7 52.1 784.8 52.9 784.9 53.3 785.0 53.9 785.3 54.3 785.4 55.0 785.7 55.4 785.9 55.9 786.2 56.5 786.4 56.8 786.5 57.5 786.8 57.9 786.9 58.6 787.2 59.0 787.3 59.7 787.5 60.0 787.6 60.8 787.9 61.1 788.1 61.7 788.4 62.2 788.7 62.5 789.0 62.8 789.5 62.9 789.8 62.8 790.2 62.5 790.7 62.2 791.0 61.8 791.3 61.3 791.7 60.8 792.0 60.4 792.2 59.9 792.4 59.3 792.7 59.0 792.9 58.4 793.1 57.9 793.4 57.5 793.6 56.9 793.9 56.5 794.1 56.1 794.3 55.4 794.5 55.0 794.7 54.3 794.9 53.9 795.0 53.2 795.2 52.5 795.4 52.1 795.4 51.4 795.6 50.7 795.7 50.0 795.7 49.6 795.8 48.9 795.8 48.2 795.8 47.5 795.8 46.8 795.7 46.4 795.7 45.7 795.7 45.0 795.6 44.3 795.6 43.5 795.5 42.8 795.4 42.1 795.4 41.7 795.3 41.0 795.3 40.3 795.2 39.6 795.1 38.9 795.0 38.5 794.9 37.8 794.8 37.1 794.6 36.7 794.5 36.0 794.3 35.7 794.1 35.1 793.9 34.6 793.6 34.2 793.4 33.9 793.1 33.5 792.7 33.2 792.0 33.1 791.7 33.1 790.9 33.2 790.6 33.5 789.9 33.8 789.5 34.2 789.1 34.6 788.8 34.9 788.5 35.3 788.3 36.0 788.0 36.4 787.8 37.0 787.6 37.4 787.5 38.2 787.3 38.5 787.2 39.2 787.0 39.8 786.9 40.3 786.8 41.0 786.7 41.7 786.6 42.1 786.5 42.8 786.4 43.5 786.2 43.9 786.1 44.6 785.9 45.2 785.8 45.7 785.6 46.4 785.4 46.8 785.3 47.5 785.1 47.9 785.0 48.6 784.9 49.3 784.8 50.0 784.7 50.4 784.7ZM49.0 786.2 49.6 786.1 50.4 786.0 51.1 786.0 51.8 786.0 52.5 786.1 52.9 786.2 53.6 786.4 53.9 786.6 54.7 786.9 55.0 787.1 55.4 787.3 56.1 787.6 56.5 787.8 56.9 788.0 57.5 788.3 57.9 788.5 58.2 788.8 58.7 789.1 59.1 789.5 59.2 790.2 59.0 790.8 58.6 791.2 58.2 791.5 57.9 791.8 57.5 792.0 56.9 792.4 56.5 792.7 56.1 792.9 55.5 793.1 55.0 793.4 54.6 793.5 53.9 793.7 53.5 793.9 52.9 794.0 52.1 794.2 51.8 794.3 51.1 794.4 50.4 794.5 49.6 794.6 48.9 794.6 48.6 794.6 47.8 794.7 47.1 794.7 46.4 794.6 46.1 794.6 45.3 794.6 44.6 794.5 43.9 794.5 43.2 794.4 42.5 794.4 41.7 794.3 41.0 794.3 40.7 794.2 40.0 794.1 39.2 794.0 38.8 793.9 38.2 793.7 37.6 793.5 37.1 793.2 36.7 792.9 36.4 792.5 36.2 792.0 36.2 791.3 36.4 790.7 36.7 790.2 37.1 789.9 37.4 789.6 37.8 789.4 38.4 789.1 38.9 788.9 39.3 788.7 40.0 788.5 40.5 788.4 41.0 788.2 41.7 788.0 42.1 788.0 42.8 787.8 43.4 787.6 43.9 787.5 44.6 787.3 45.0 787.2 45.7 787.0 46.1 786.9 46.8 786.7 47.4 786.5 47.8 786.4 48.6 786.2 49.0 786.2ZM48.9 787.6 49.6 787.5 50.4 787.4 51.1 787.4 51.8 787.4 52.5 787.6 52.9 787.7 53.6 788.0 53.9 788.1 54.3 788.4 54.9 788.7 55.3 789.1 55.6 789.5 55.8 789.8 55.7 790.6 55.5 790.9 55.2 791.3 54.7 791.7 54.3 791.9 53.9 792.1 53.2 792.4 52.9 792.5 52.1 792.7 51.8 792.8 51.1 792.9 50.4 793.0 49.6 793.1 49.1 793.1 48.6 793.2 47.8 793.2 47.1 793.2 46.7 793.1 46.1 793.1 45.3 793.0 44.6 792.9 43.9 792.8 43.5 792.7 42.8 792.5 42.4 792.4 41.8 792.0 41.6 791.7 41.7 791.1 42.1 790.7 42.5 790.3 42.8 790.1 43.2 789.8 43.9 789.5 44.3 789.3 44.7 789.1 45.3 788.8 45.7 788.7 46.4 788.4 46.8 788.3 47.5 788.0 47.8 787.9 48.6 787.7 48.9 787.6Z"/>
<ellipse class="c" cx="30.5" cy="754.6" rx="8.6" ry="0.9"/>
<path class="c" d="M182.1 749.8 182.9 749.8 183.7 749.7 184.5 749.7 185.4 749.7 186.2 749.8 186.9 749.8 187.4 749.9 188.2 750.0 189.1 750.1 189.9 750.2 190.4 750.3 191.1 750.4 192.0 750.5 192.8 750.6 193.2 750.7 194.0 750.9 194.9 751.1 195.3 751.2 196.1 751.4 196.5 751.5 197.3 751.7 198.1 752.0 198.6 752.1 199.4 752.3 199.9 752.4 200.6 752.5 201.5 752.7 201.9 752.9 202.7 753.1 203.1 753.2 204.0 753.6 204.4 753.8 204.9 754.1 205.6 754.5 206.0 754.8 206.4 755.1 206.8 755.4 207.3 755.7 207.8 756.2 208.3 756.6 208.8 757.0 209.3 757.4 209.7 757.9 210.1 758.3 210.6 758.7 211.0 759.1 211.3 759.5 211.7 760.0 212.0 760.4 212.2 760.8 212.6 761.6 212.8 762.1 212.9 762.9 212.8 763.8 212.6 764.2 212.2 764.9 211.8 765.3 211.4 765.6 210.9 765.9 210.2 766.1 209.3 766.3 208.9 766.3 208.1 766.4 207.3 766.4 206.4 766.4 205.6 766.4 204.8 766.5 204.0 766.6 203.5 766.7 202.7 766.9 202.0 767.1 201.5 767.3 201.0 767.5 200.2 767.9 199.8 768.1 199.3 768.4 198.6 768.8 198.2 769.0 197.8 769.3 197.1 769.6 196.5 770.0 196.1 770.2 195.6 770.5 194.9 770.8 194.4 771.0 193.7 771.3 193.2 771.5 192.4 771.8 192.0 771.9 191.1 772.0 190.3 772.1 189.7 772.2 189.1 772.2 188.2 772.2 187.8 772.2 187.0 772.1 186.2 772.0 185.4 771.8 184.9 771.8 184.1 771.5 183.6 771.3 182.9 771.1 182.5 770.9 181.6 770.5 181.2 770.3 180.7 770.1 180.0 769.7 179.6 769.5 178.9 769.2 178.3 769.0 177.9 768.8 177.1 768.4 176.7 768.3 175.9 768.0 175.4 767.8 174.9 767.5 174.2 767.2 173.8 767.0 173.1 766.7 172.5 766.4 172.1 766.2 171.4 765.9 170.9 765.6 170.5 765.3 169.9 765.0 169.3 764.6 168.8 764.3 168.4 764.0 168.0 763.6 167.6 763.2 167.2 762.8 166.7 762.2 166.5 761.6 166.3 761.2 166.1 760.4 166.1 759.5 166.3 758.7 166.5 758.3 166.7 757.7 167.2 757.1 167.6 756.6 167.9 756.2 168.4 755.7 168.8 755.3 169.2 755.0 169.6 754.7 170.1 754.4 170.5 754.1 171.1 753.6 171.7 753.3 172.1 753.0 172.5 752.8 173.4 752.4 173.8 752.2 174.3 752.0 175.0 751.7 175.4 751.5 176.3 751.2 176.7 751.1 177.5 750.9 178.2 750.7 178.7 750.5 179.6 750.3 180.0 750.2 180.8 750.1 181.6 749.9 182.1 749.8ZM182.0 752.0 182.5 751.9 183.3 751.8 184.1 751.7 184.9 751.7 185.8 751.7 186.6 751.7 187.4 751.7 188.2 751.8 189.1 751.9 189.5 752.0 190.3 752.1 191.1 752.2 191.8 752.4 192.4 752.5 193.2 752.7 193.6 752.8 194.4 753.0 195.2 753.2 195.7 753.3 196.5 753.6 196.9 753.7 197.8 753.9 198.3 754.1 199.0 754.2 199.8 754.5 200.2 754.6 201.1 754.8 201.5 754.9 202.3 755.2 202.7 755.4 203.5 755.7 204.0 755.9 204.5 756.2 205.2 756.6 205.6 756.9 206.0 757.2 206.4 757.5 206.8 757.9 207.3 758.3 207.7 758.7 208.1 759.1 208.5 759.6 208.9 760.2 209.2 760.8 209.4 761.2 209.5 762.1 209.3 762.9 209.0 763.3 208.5 763.8 208.1 764.0 207.5 764.2 206.8 764.3 206.0 764.5 205.6 764.6 204.8 764.8 204.0 765.0 203.5 765.1 202.7 765.4 202.3 765.5 201.5 765.9 201.1 766.0 200.6 766.3 199.8 766.7 199.4 766.9 199.0 767.1 198.2 767.5 197.8 767.8 197.3 768.0 196.6 768.4 196.1 768.7 195.7 768.9 194.9 769.2 194.4 769.4 193.8 769.6 193.2 769.9 192.4 770.1 192.0 770.2 191.1 770.3 190.3 770.4 189.5 770.5 189.1 770.5 188.3 770.5 187.8 770.5 187.0 770.4 186.2 770.3 185.4 770.1 184.9 770.0 184.1 769.8 183.7 769.6 182.9 769.4 182.5 769.2 181.6 768.8 181.2 768.6 180.7 768.4 180.0 768.1 179.6 767.9 178.8 767.5 178.3 767.3 177.8 767.1 177.1 766.8 176.7 766.6 175.9 766.3 175.4 766.0 175.0 765.8 174.2 765.4 173.8 765.2 173.4 765.0 172.7 764.6 172.1 764.2 171.7 763.9 171.3 763.6 170.9 763.2 170.5 762.8 170.1 762.3 169.6 761.7 169.4 761.2 169.2 760.7 169.1 760.0 169.2 759.1 169.3 758.7 169.6 757.9 169.9 757.4 170.2 757.0 170.6 756.6 171.0 756.2 171.6 755.7 172.1 755.3 172.5 755.1 172.9 754.8 173.6 754.5 174.2 754.2 174.6 754.0 175.4 753.7 175.8 753.6 176.7 753.3 177.1 753.2 177.9 752.9 178.4 752.8 179.1 752.6 180.0 752.4 180.4 752.3 181.2 752.1 182.0 752.0ZM182.7 754.1 183.3 754.0 184.1 753.9 184.9 753.8 185.8 753.7 186.6 753.7 187.4 753.7 188.2 753.8 189.1 753.9 189.9 754.0 190.5 754.1 191.1 754.2 192.0 754.3 192.5 754.5 193.2 754.6 194.0 754.8 194.4 755.0 195.3 755.2 195.8 755.3 196.5 755.5 197.3 755.7 197.8 755.9 198.6 756.2 199.0 756.3 199.8 756.6 200.2 756.8 200.8 757.0 201.5 757.3 201.9 757.5 202.5 757.9 203.1 758.3 203.5 758.6 204.0 759.0 204.3 759.5 204.6 760.0 204.8 760.8 204.5 761.6 204.1 762.1 203.6 762.5 203.1 762.8 202.7 763.1 202.3 763.3 201.7 763.8 201.1 764.1 200.6 764.4 200.2 764.6 199.6 765.0 199.0 765.3 198.6 765.6 198.1 765.9 197.3 766.3 196.9 766.5 196.5 766.7 195.7 767.1 195.3 767.3 194.5 767.5 194.0 767.7 193.2 768.0 192.8 768.1 192.0 768.2 191.1 768.3 190.6 768.4 189.9 768.4 189.1 768.5 188.2 768.4 187.4 768.4 187.0 768.4 186.2 768.3 185.4 768.1 184.6 768.0 184.1 767.8 183.3 767.6 182.9 767.4 182.0 767.1 181.6 767.0 181.0 766.7 180.4 766.4 180.0 766.3 179.1 765.9 178.7 765.7 178.1 765.4 177.5 765.1 177.1 764.9 176.4 764.6 175.8 764.3 175.4 764.0 175.0 763.7 174.4 763.3 173.9 762.9 173.5 762.5 173.1 762.1 172.8 761.6 172.5 761.2 172.3 760.4 172.2 759.5 172.5 758.7 172.7 758.3 173.0 757.9 173.5 757.4 174.0 757.0 174.6 756.6 175.0 756.4 175.4 756.2 176.3 755.8 176.7 755.6 177.5 755.3 177.9 755.2 178.7 755.0 179.1 754.8 180.0 754.6 180.6 754.5 181.2 754.3 182.0 754.2 182.7 754.1ZM185.6 756.2 186.2 756.1 187.0 756.1 187.8 756.0 188.7 756.1 189.5 756.1 190.0 756.2 190.7 756.3 191.6 756.4 192.4 756.6 192.8 756.7 193.6 756.9 194.1 757.0 194.9 757.2 195.4 757.4 196.1 757.7 196.6 757.9 197.3 758.2 197.8 758.4 198.2 758.7 198.8 759.1 199.2 759.5 199.5 760.0 199.7 760.8 199.5 761.6 199.3 762.1 199.0 762.5 198.6 762.9 198.2 763.3 197.6 763.8 197.0 764.2 196.5 764.5 196.1 764.7 195.4 765.0 194.9 765.2 194.3 765.4 193.6 765.6 192.8 765.8 192.4 765.9 191.6 766.0 190.7 766.0 189.9 766.0 189.1 766.0 188.2 766.0 187.4 765.9 186.6 765.9 186.2 765.8 185.4 765.7 184.5 765.5 184.1 765.4 183.3 765.2 182.6 765.0 182.0 764.8 181.5 764.6 180.8 764.3 180.4 764.1 179.7 763.8 179.1 763.5 178.7 763.2 178.3 762.9 177.7 762.5 177.3 762.1 176.9 761.6 176.7 761.2 176.4 760.4 176.6 759.5 176.9 759.1 177.4 758.7 177.9 758.3 178.3 758.1 178.7 757.9 179.6 757.5 180.0 757.4 180.8 757.1 181.2 757.0 182.0 756.8 182.9 756.6 183.3 756.5 184.1 756.4 184.9 756.2 185.6 756.2ZM187.3 760.0 187.8 759.8 188.7 759.6 189.5 759.6 190.3 759.6 191.1 759.7 192.0 760.0 192.4 760.2 192.8 760.4 193.2 760.8 193.2 761.5 192.8 761.9 192.4 762.1 191.6 762.3 190.7 762.4 189.9 762.4 189.1 762.3 188.2 762.1 187.8 762.0 187.0 761.7 186.6 761.4 186.2 760.8 186.6 760.3 187.3 760.0Z"/>
<path class="c" d="M384.7 711.8 385.2 711.8 385.8 711.8 386.4 711.8 387.1 711.8 387.8 711.9 388.6 712.0 389.3 712.0 390.1 712.2 390.5 712.2 391.2 712.4 391.9 712.6 392.3 712.7 393.1 712.9 393.4 713.0 394.2 713.3 394.6 713.4 395.3 713.7 395.7 713.8 396.4 714.0 396.8 714.2 397.5 714.4 398.0 714.5 398.7 714.7 399.3 714.9 399.8 715.0 400.3 715.2 400.9 715.5 401.3 715.7 401.7 716.0 402.3 716.4 402.8 716.7 403.1 716.9 403.5 717.2 404.1 717.5 404.6 717.9 405.0 718.1 405.4 718.3 406.0 718.7 406.5 718.9 406.9 719.1 407.6 719.4 408.0 719.5 408.7 719.8 409.1 719.9 409.8 720.1 410.2 720.2 411.0 720.5 411.3 720.6 412.1 720.8 412.5 721.0 413.2 721.2 413.6 721.4 414.3 721.7 414.7 721.8 415.3 722.1 415.8 722.3 416.2 722.5 416.9 722.8 417.3 722.9 418.0 723.3 418.4 723.4 419.0 723.6 419.5 723.9 419.9 724.2 419.9 724.8 419.5 725.0 419.2 725.2 418.4 725.4 418.0 725.6 417.3 725.8 416.9 725.9 416.2 726.2 415.7 726.3 415.1 726.6 414.6 726.7 413.9 726.9 413.5 727.1 412.8 727.3 412.4 727.5 411.7 727.8 411.3 727.9 410.6 728.2 410.2 728.4 409.7 728.6 409.1 728.9 408.7 729.1 408.1 729.4 407.6 729.6 407.2 729.8 406.7 730.1 406.1 730.5 405.7 730.7 405.3 730.9 404.6 731.3 404.2 731.5 403.8 731.7 403.1 731.9 402.8 732.1 402.0 732.3 401.6 732.4 400.9 732.6 400.1 732.8 399.8 732.9 399.0 733.0 398.3 733.2 397.9 733.3 397.2 733.5 396.7 733.6 396.0 733.7 395.3 733.9 394.9 734.0 394.2 734.2 393.4 734.3 393.1 734.4 392.3 734.6 391.6 734.6 390.8 734.7 390.1 734.7 389.3 734.7 388.6 734.6 387.8 734.4 387.3 734.3 386.7 734.2 386.0 734.1 385.2 734.0 384.9 733.9 384.1 733.8 383.4 733.7 382.6 733.6 382.3 733.6 381.5 733.5 380.8 733.4 380.0 733.2 379.6 733.2 378.9 733.0 378.2 732.9 377.8 732.8 377.0 732.7 376.3 732.6 375.5 732.5 375.2 732.4 374.4 732.3 373.7 732.2 373.2 732.0 372.6 731.9 372.0 731.7 371.4 731.5 371.1 731.3 370.5 730.9 370.0 730.6 369.6 730.3 369.2 730.0 368.8 729.8 368.3 729.4 367.8 729.0 367.3 728.7 367.0 728.4 366.6 728.2 366.1 727.8 365.5 727.6 365.1 727.4 364.4 727.1 364.0 726.9 363.4 726.7 362.9 726.6 362.1 726.4 361.8 726.3 361.0 726.1 360.3 726.0 359.9 725.9 359.1 725.8 358.4 725.6 358.0 725.5 357.4 725.2 357.1 724.8 357.3 724.4 358.0 724.0 358.4 723.9 359.1 723.7 359.5 723.6 360.3 723.5 361.0 723.3 361.4 723.2 362.1 723.0 362.6 722.9 363.2 722.7 363.8 722.5 364.4 722.3 364.8 722.1 365.5 721.8 365.9 721.6 366.5 721.4 367.0 721.1 367.3 720.9 368.0 720.6 368.5 720.4 368.8 720.2 369.4 719.8 370.0 719.5 370.3 719.3 370.7 719.0 371.2 718.7 371.7 718.3 372.1 717.9 372.6 717.6 372.9 717.3 373.3 717.0 373.7 716.7 374.1 716.4 374.5 716.0 375.1 715.6 375.5 715.3 375.9 715.0 376.3 714.8 376.7 714.5 377.3 714.1 377.8 713.8 378.2 713.5 378.5 713.3 379.1 713.0 379.6 712.7 380.0 712.5 380.8 712.3 381.1 712.2 381.9 712.0 382.6 711.9 383.4 711.9 384.1 711.8 384.7 711.8ZM385.3 714.5 386.0 714.3 386.7 714.3 387.5 714.2 388.2 714.2 389.0 714.2 389.7 714.3 390.5 714.5 390.8 714.6 391.6 714.8 391.9 714.9 392.7 715.2 393.1 715.4 393.6 715.6 394.2 715.9 394.6 716.0 395.3 716.3 395.7 716.4 396.4 716.7 396.8 716.8 397.5 717.0 398.2 717.2 398.7 717.3 399.4 717.5 399.8 717.6 400.5 717.8 400.9 718.0 401.6 718.3 402.0 718.5 402.4 718.7 403.1 719.1 403.5 719.3 403.9 719.4 404.6 719.8 405.0 720.0 405.6 720.2 406.1 720.4 406.6 720.6 407.2 720.8 407.9 721.0 408.3 721.1 409.1 721.3 409.5 721.4 410.2 721.6 410.8 721.7 411.3 721.9 412.1 722.1 412.4 722.2 413.2 722.5 413.6 722.6 414.3 722.9 414.7 723.0 415.2 723.3 415.8 723.5 416.2 723.8 416.5 724.1 416.6 724.8 416.2 725.1 415.8 725.3 415.3 725.6 414.7 725.8 414.3 726.0 413.6 726.2 413.2 726.3 412.4 726.6 412.1 726.7 411.3 727.0 410.9 727.1 410.2 727.3 409.7 727.5 409.1 727.7 408.5 727.8 408.0 728.0 407.4 728.2 406.9 728.4 406.4 728.6 405.7 728.8 405.3 729.0 404.6 729.3 404.2 729.4 403.5 729.7 403.1 729.8 402.4 730.1 402.0 730.2 401.3 730.5 400.9 730.6 400.1 730.9 399.8 731.0 399.0 731.2 398.7 731.3 397.9 731.6 397.5 731.7 396.8 731.9 396.0 732.0 395.7 732.1 394.9 732.3 394.4 732.4 393.8 732.5 393.1 732.7 392.3 732.8 391.9 732.8 391.2 732.9 390.5 732.9 389.7 732.9 389.0 732.8 388.6 732.8 387.8 732.7 387.1 732.6 386.4 732.4 386.0 732.4 385.2 732.2 384.5 732.1 384.1 732.0 383.4 731.9 382.6 731.8 382.1 731.7 381.5 731.5 380.8 731.4 380.3 731.3 379.6 731.1 378.9 731.0 378.5 730.9 377.8 730.8 377.0 730.6 376.3 730.5 375.9 730.5 375.2 730.4 374.4 730.3 373.9 730.1 373.3 730.0 372.6 729.8 372.2 729.7 371.4 729.4 371.1 729.3 370.5 729.0 370.0 728.7 369.6 728.5 369.0 728.2 368.5 728.0 368.1 727.8 367.5 727.5 367.0 727.2 366.6 727.1 365.9 726.7 365.5 726.6 364.9 726.3 364.4 726.1 363.9 725.9 363.2 725.7 362.9 725.5 362.1 725.2 361.8 724.9 361.7 724.4 362.1 724.1 362.5 723.9 363.1 723.6 363.6 723.5 364.1 723.3 364.7 723.0 365.1 722.9 365.9 722.6 366.2 722.4 367.0 722.1 367.3 722.0 368.0 721.7 368.5 721.5 369.0 721.4 369.6 721.1 370.0 720.9 370.7 720.6 371.1 720.4 371.5 720.2 372.1 719.8 372.6 719.6 372.9 719.3 373.4 719.1 373.9 718.7 374.4 718.4 374.8 718.1 375.2 717.9 375.8 717.5 376.3 717.3 376.7 717.1 377.4 716.8 377.8 716.6 378.4 716.4 378.9 716.2 379.5 716.0 380.0 715.9 380.8 715.7 381.1 715.6 381.9 715.4 382.3 715.2 383.0 715.0 383.7 714.9 384.1 714.7 384.9 714.6 385.3 714.5ZM387.4 716.8 387.8 716.7 388.6 716.7 389.3 716.7 390.0 716.8 390.5 716.8 391.2 717.0 391.6 717.2 392.3 717.4 392.7 717.5 393.4 717.8 393.8 717.9 394.6 718.2 394.9 718.3 395.7 718.6 396.0 718.7 396.8 718.9 397.5 719.1 397.9 719.2 398.7 719.3 399.1 719.4 399.8 719.6 400.4 719.8 400.9 720.0 401.5 720.2 402.0 720.4 402.6 720.6 403.1 720.8 403.7 721.0 404.2 721.2 404.8 721.4 405.4 721.5 406.1 721.7 406.5 721.8 407.2 722.0 407.8 722.1 408.3 722.2 409.1 722.4 409.5 722.5 410.2 722.7 410.9 722.9 411.3 723.0 412.1 723.2 412.4 723.4 413.1 723.6 413.6 723.9 413.9 724.4 413.9 724.4 413.6 725.0 413.2 725.3 412.6 725.6 412.1 725.7 411.5 725.9 411.0 726.1 410.3 726.3 409.8 726.4 409.1 726.6 408.7 726.7 408.0 726.9 407.4 727.1 406.9 727.2 406.1 727.4 405.7 727.5 405.0 727.7 404.5 727.8 403.9 728.0 403.2 728.2 402.8 728.4 402.0 728.6 401.6 728.7 400.9 728.9 400.5 729.1 399.8 729.3 399.4 729.4 398.7 729.7 398.3 729.8 397.5 730.0 397.0 730.1 396.4 730.3 395.7 730.5 395.3 730.6 394.6 730.7 393.8 730.8 393.4 730.9 392.7 731.0 391.9 731.1 391.2 731.1 390.5 731.2 389.7 731.1 389.0 731.1 388.2 731.0 387.5 730.9 387.1 730.9 386.4 730.8 385.6 730.7 384.9 730.5 384.5 730.5 383.7 730.3 383.0 730.2 382.6 730.1 381.9 729.9 381.1 729.8 380.8 729.7 380.0 729.5 379.3 729.4 378.9 729.3 378.2 729.2 377.4 729.0 377.0 729.0 376.3 728.9 375.5 728.8 374.8 728.6 374.4 728.6 373.7 728.5 372.9 728.3 372.6 728.2 371.8 728.0 371.4 727.8 370.7 727.6 370.2 727.5 369.6 727.2 369.2 727.1 368.5 726.8 368.1 726.7 367.3 726.4 367.0 726.2 366.4 725.9 365.9 725.7 365.5 725.5 365.0 725.2 364.7 724.8 364.7 724.4 365.1 724.0 365.7 723.6 366.2 723.4 366.6 723.2 367.3 722.9 367.7 722.8 368.5 722.5 368.8 722.4 369.6 722.2 370.0 722.0 370.7 721.8 371.1 721.7 371.8 721.4 372.2 721.2 372.9 721.0 373.3 720.8 373.8 720.6 374.4 720.3 374.8 720.2 375.5 719.8 375.9 719.7 376.6 719.4 377.0 719.3 377.8 719.1 378.2 719.0 378.9 718.8 379.4 718.7 380.0 718.6 380.8 718.4 381.4 718.3 381.9 718.2 382.6 718.0 383.1 717.9 383.7 717.8 384.5 717.5 384.9 717.4 385.6 717.2 386.0 717.1 386.7 716.9 387.4 716.8ZM387.9 719.1 388.6 719.0 389.3 719.0 390.1 719.0 390.6 719.1 391.2 719.2 391.9 719.3 392.5 719.4 393.1 719.6 393.8 719.8 394.2 719.9 394.9 720.0 395.6 720.2 396.0 720.3 396.8 720.5 397.3 720.6 397.9 720.7 398.7 720.9 399.1 721.0 399.8 721.1 400.5 721.3 400.9 721.4 401.6 721.6 402.0 721.7 402.8 721.9 403.5 722.1 403.9 722.2 404.6 722.4 405.0 722.5 405.7 722.7 406.5 722.9 406.9 723.0 407.6 723.1 408.0 723.3 408.7 723.5 409.3 723.6 409.8 723.9 410.2 724.0 410.6 724.4 410.6 724.8 410.1 725.2 409.5 725.4 409.1 725.6 408.3 725.8 407.9 725.9 407.2 726.1 406.5 726.3 406.1 726.4 405.4 726.6 404.7 726.7 404.2 726.8 403.5 727.0 403.1 727.1 402.4 727.3 401.6 727.5 401.3 727.6 400.5 727.8 400.1 727.9 399.4 728.1 398.8 728.2 398.3 728.4 397.5 728.6 397.2 728.6 396.4 728.8 395.7 729.0 395.3 729.1 394.6 729.2 393.8 729.3 393.2 729.4 392.7 729.4 391.9 729.5 391.2 729.5 390.5 729.6 389.7 729.6 389.0 729.5 388.2 729.5 387.5 729.4 387.1 729.4 386.4 729.3 385.6 729.2 384.9 729.1 384.4 729.0 383.7 728.9 383.0 728.8 382.3 728.6 381.9 728.5 381.1 728.4 380.4 728.3 380.0 728.2 379.3 728.1 378.5 728.0 377.9 727.8 377.4 727.8 376.7 727.7 375.9 727.6 375.2 727.5 374.8 727.4 374.1 727.3 373.3 727.2 372.9 727.1 372.2 726.9 371.4 726.7 371.1 726.6 370.3 726.4 370.0 726.3 369.2 726.0 368.8 725.8 368.2 725.6 367.7 725.2 367.3 724.9 367.3 724.4 367.7 724.0 368.1 723.8 368.5 723.6 369.2 723.3 369.6 723.2 370.3 722.9 370.7 722.8 371.4 722.6 371.8 722.5 372.6 722.3 373.1 722.1 373.7 721.9 374.4 721.7 374.8 721.6 375.5 721.4 375.9 721.3 376.7 721.1 377.3 721.0 377.8 720.9 378.5 720.7 379.3 720.6 379.6 720.5 380.4 720.4 381.1 720.3 381.9 720.2 382.3 720.1 383.0 720.0 383.7 719.9 384.1 719.8 384.9 719.6 385.6 719.5 386.0 719.4 386.7 719.2 387.5 719.1 387.9 719.1ZM386.1 721.0 386.7 720.9 387.5 720.8 388.2 720.7 389.0 720.7 389.7 720.7 390.5 720.7 391.2 720.8 391.9 720.9 392.7 721.0 393.1 721.0 393.8 721.1 394.6 721.3 395.0 721.4 395.7 721.5 396.4 721.6 397.1 721.7 397.5 721.8 398.3 721.9 399.0 722.1 399.4 722.2 400.1 722.3 400.8 722.5 401.3 722.6 402.0 722.8 402.4 722.9 403.1 723.1 403.7 723.3 404.2 723.4 405.0 723.6 405.4 723.8 405.9 724.0 406.4 724.4 406.1 725.0 405.7 725.2 405.0 725.5 404.6 725.6 403.9 725.9 403.5 726.0 402.8 726.2 402.1 726.3 401.6 726.4 400.9 726.6 400.5 726.7 399.8 726.9 399.0 727.1 398.7 727.2 397.9 727.3 397.2 727.5 396.8 727.6 396.0 727.7 395.3 727.8 394.9 727.9 394.2 728.0 393.4 728.1 392.7 728.1 391.9 728.2 391.2 728.2 390.8 728.2 390.1 728.2 389.3 728.2 389.0 728.2 388.2 728.2 387.5 728.2 386.7 728.1 386.0 728.0 385.2 727.9 384.6 727.8 384.1 727.8 383.4 727.7 382.6 727.6 382.0 727.5 381.5 727.4 380.8 727.3 380.0 727.2 379.6 727.1 378.9 727.0 378.2 726.9 377.4 726.8 376.9 726.7 376.3 726.6 375.5 726.5 374.8 726.4 374.4 726.3 373.7 726.2 372.9 726.0 372.6 725.9 371.8 725.7 371.4 725.5 370.7 725.2 370.3 724.8 370.7 724.1 371.1 723.9 371.7 723.6 372.2 723.5 372.8 723.3 373.3 723.1 374.1 722.9 374.4 722.8 375.2 722.6 375.8 722.5 376.3 722.4 377.0 722.3 377.8 722.1 378.2 722.1 378.9 722.0 379.6 721.9 380.4 721.8 380.8 721.7 381.5 721.6 382.3 721.5 383.0 721.4 383.4 721.4 384.1 721.2 384.9 721.1 385.6 721.0 386.1 721.0ZM385.9 722.1 386.4 722.1 387.1 722.0 387.8 721.9 388.6 721.9 389.3 721.9 390.1 721.9 390.8 721.9 391.6 722.0 392.3 722.0 393.0 722.1 393.4 722.2 394.2 722.3 394.9 722.4 395.7 722.5 396.0 722.5 396.8 722.7 397.5 722.8 397.9 722.9 398.7 723.0 399.4 723.2 399.8 723.3 400.5 723.5 400.9 723.6 401.6 724.0 402.0 724.2 402.3 724.8 401.7 725.2 401.3 725.4 400.8 725.6 400.1 725.8 399.5 725.9 399.0 726.1 398.3 726.2 397.9 726.3 397.2 726.5 396.4 726.6 395.9 726.7 395.3 726.8 394.6 726.9 393.8 727.0 393.1 727.1 392.7 727.1 391.9 727.1 391.2 727.2 390.5 727.2 389.7 727.2 389.0 727.2 388.2 727.2 387.5 727.1 386.8 727.1 386.4 727.0 385.6 727.0 384.9 726.9 384.1 726.8 383.4 726.7 383.0 726.7 382.3 726.6 381.5 726.5 380.8 726.3 380.4 726.3 379.6 726.2 378.9 726.0 378.3 725.9 377.8 725.8 377.0 725.7 376.3 725.6 375.9 725.5 375.2 725.2 374.8 725.1 374.3 724.8 374.4 724.3 374.8 724.0 375.5 723.8 375.9 723.6 376.7 723.5 377.4 723.3 377.8 723.2 378.5 723.1 379.3 723.0 379.9 722.9 380.4 722.8 381.1 722.7 381.9 722.6 382.6 722.5 383.0 722.5 383.7 722.4 384.5 722.3 385.2 722.2 385.9 722.1ZM384.5 723.3 384.9 723.2 385.6 723.1 386.4 723.1 387.1 723.0 387.8 722.9 388.6 722.9 389.3 722.9 390.1 722.9 390.8 722.9 391.6 723.0 392.3 723.0 393.1 723.1 393.8 723.2 394.2 723.3 394.9 723.4 395.7 723.5 396.3 723.6 396.8 723.8 397.5 724.0 397.9 724.3 398.2 724.8 397.6 725.2 397.2 725.3 396.4 725.5 396.0 725.6 395.3 725.8 394.6 725.9 394.2 726.0 393.4 726.0 392.7 726.1 391.9 726.2 391.2 726.2 390.5 726.2 389.7 726.2 389.0 726.2 388.2 726.2 387.5 726.2 386.7 726.1 386.0 726.1 385.2 726.0 384.7 725.9 384.1 725.9 383.4 725.7 382.6 725.6 382.3 725.5 381.5 725.4 380.8 725.2 380.4 725.0 379.9 724.8 380.0 724.3 380.6 724.0 381.1 723.9 381.9 723.7 382.3 723.6 383.0 723.5 383.7 723.4 384.5 723.3ZM387.7 724.4 387.8 724.4 388.2 724.3 388.6 724.3 389.0 724.3 389.3 724.3 389.7 724.3 390.1 724.3 390.5 724.3 390.8 724.4 391.1 724.4 391.1 724.8 390.8 724.8 390.5 724.9 390.1 724.9 389.7 724.9 389.3 724.9 389.0 724.9 388.6 724.9 388.2 724.8 387.8 724.8 387.8 724.8 387.7 724.4Z"/>
<ellipse class="c" cx="387.8" cy="708.8" rx="6" ry="0.7"/>
<path class="c" d="M440.0 689.6 440.5 689.5 441.3 689.5 442.1 689.5 442.7 689.6 443.2 689.6 444.0 689.7 444.8 689.8 445.5 689.9 445.9 690.0 446.7 690.1 447.5 690.3 447.9 690.4 448.6 690.7 449.0 690.8 449.8 691.2 450.2 691.4 450.7 691.6 451.4 692.0 451.7 692.2 452.1 692.4 452.8 692.8 453.3 693.1 453.7 693.3 454.3 693.6 454.9 693.9 455.2 694.1 456.0 694.4 456.4 694.6 457.0 694.8 457.6 695.1 458.1 695.3 458.7 695.5 459.4 695.7 459.9 695.8 460.7 696.1 461.1 696.2 461.8 696.5 462.2 696.6 462.9 696.9 463.4 697.1 463.8 697.3 464.4 697.7 464.9 698.1 465.3 698.5 465.6 698.9 465.8 699.3 465.8 700.1 465.6 700.5 465.3 700.9 464.9 701.3 464.4 701.7 463.8 702.1 463.4 702.4 463.0 702.7 462.5 703.0 461.8 703.3 461.4 703.5 461.0 703.8 460.3 704.1 459.9 704.3 459.3 704.6 458.7 704.8 458.3 705.0 457.6 705.3 457.2 705.4 456.4 705.7 456.0 705.9 455.2 706.2 454.9 706.3 454.2 706.6 453.7 706.8 453.3 707.0 452.5 707.3 452.1 707.5 451.5 707.8 451.0 708.1 450.6 708.2 449.8 708.6 449.4 708.7 448.7 709.0 448.3 709.2 447.7 709.4 447.1 709.7 446.7 709.8 445.9 710.1 445.5 710.3 444.8 710.5 444.0 710.7 443.6 710.7 442.8 710.8 442.1 710.9 441.3 710.9 440.5 710.9 439.7 710.8 439.0 710.7 438.6 710.6 437.8 710.5 437.0 710.3 436.6 710.2 435.9 709.9 435.5 709.8 434.7 709.5 434.3 709.3 433.7 709.0 433.1 708.7 432.8 708.5 432.2 708.2 431.6 707.9 431.2 707.7 430.8 707.4 430.1 707.0 429.7 706.8 429.3 706.5 428.7 706.2 428.1 705.8 427.7 705.6 427.3 705.4 426.7 705.0 426.2 704.6 425.8 704.4 425.4 704.1 424.8 703.8 424.2 703.4 423.8 703.1 423.5 702.9 422.9 702.6 422.3 702.2 421.9 701.9 421.5 701.7 420.9 701.3 420.4 701.0 420.0 700.8 419.4 700.5 418.8 700.1 418.4 699.8 418.1 699.3 418.4 698.8 418.8 698.5 419.6 698.1 420.0 698.0 420.6 697.7 421.1 697.5 421.6 697.3 422.3 696.9 422.7 696.8 423.3 696.5 423.8 696.2 424.2 696.0 424.9 695.7 425.4 695.4 425.8 695.2 426.5 694.8 426.9 694.6 427.3 694.4 428.0 694.0 428.5 693.8 428.9 693.6 429.6 693.2 430.0 693.0 430.5 692.8 431.2 692.5 431.6 692.3 432.4 692.0 432.8 691.9 433.5 691.6 433.9 691.4 434.6 691.2 435.1 691.0 435.6 690.8 436.2 690.6 436.8 690.4 437.4 690.2 438.0 690.0 438.6 689.8 439.3 689.7 440.0 689.6ZM438.9 691.2 439.3 691.1 440.1 691.0 440.9 691.0 441.7 691.0 442.4 691.0 443.2 691.1 444.0 691.1 444.5 691.2 445.2 691.3 445.9 691.4 446.7 691.5 447.1 691.6 447.9 691.8 448.5 692.0 449.0 692.2 449.6 692.4 450.2 692.7 450.6 692.9 451.3 693.2 451.7 693.5 452.1 693.7 452.8 694.0 453.3 694.3 453.7 694.5 454.3 694.8 454.9 695.1 455.2 695.3 456.0 695.7 456.4 695.8 457.0 696.1 457.6 696.3 458.0 696.5 458.7 696.8 459.1 696.9 459.9 697.3 460.3 697.4 460.8 697.7 461.4 698.0 461.8 698.3 462.2 698.6 462.6 698.9 463.0 699.7 462.8 700.5 462.6 700.9 462.2 701.3 461.7 701.7 461.2 702.1 460.7 702.5 460.3 702.7 459.9 703.0 459.1 703.3 458.7 703.5 458.2 703.8 457.6 704.0 457.2 704.2 456.4 704.5 456.0 704.7 455.2 705.0 454.9 705.1 454.2 705.4 453.7 705.6 453.2 705.8 452.5 706.1 452.1 706.3 451.4 706.6 451.0 706.8 450.4 707.0 449.8 707.2 449.4 707.4 448.6 707.7 448.3 707.9 447.5 708.1 447.1 708.3 446.3 708.5 445.9 708.6 445.2 708.9 444.4 709.0 444.0 709.1 443.2 709.3 442.4 709.4 441.7 709.4 440.9 709.4 440.1 709.4 439.3 709.4 438.6 709.3 437.8 709.2 437.3 709.0 436.6 708.9 435.9 708.7 435.5 708.5 434.7 708.2 434.3 708.1 433.8 707.8 433.1 707.5 432.8 707.3 432.2 707.0 431.6 706.7 431.2 706.5 430.8 706.2 430.1 705.8 429.7 705.6 429.3 705.3 428.7 705.0 428.1 704.6 427.7 704.4 427.3 704.1 426.8 703.8 426.2 703.4 425.8 703.1 425.4 702.8 425.0 702.5 424.5 702.1 424.0 701.7 423.6 701.3 423.2 700.9 422.9 700.5 422.7 699.9 422.7 699.5 422.9 698.9 423.3 698.5 423.7 698.1 424.2 697.7 424.6 697.4 425.0 697.2 425.5 696.9 426.2 696.5 426.6 696.3 427.0 696.1 427.7 695.7 428.1 695.4 428.5 695.3 429.3 694.9 429.7 694.7 430.1 694.4 430.8 694.1 431.2 693.9 431.9 693.6 432.4 693.4 432.8 693.2 433.5 692.9 433.9 692.8 434.7 692.5 435.1 692.3 435.9 692.0 436.2 691.9 437.0 691.7 437.4 691.5 438.2 691.3 438.9 691.2ZM439.5 692.4 440.1 692.3 440.9 692.3 441.7 692.3 442.4 692.3 443.2 692.4 443.7 692.4 444.4 692.5 445.2 692.6 445.9 692.7 446.5 692.8 447.1 692.9 447.9 693.1 448.3 693.3 449.0 693.5 449.4 693.7 450.2 694.0 450.6 694.2 451.1 694.4 451.7 694.8 452.1 695.0 452.7 695.3 453.3 695.6 453.7 695.8 454.3 696.1 454.9 696.4 455.2 696.6 455.9 696.9 456.4 697.1 456.8 697.3 457.5 697.7 458.0 698.0 458.3 698.2 458.8 698.5 459.3 698.9 459.6 699.3 459.9 700.0 459.9 700.2 459.6 700.9 459.3 701.3 458.9 701.7 458.3 702.1 458.0 702.4 457.6 702.6 456.9 703.0 456.4 703.2 456.0 703.4 455.2 703.7 454.9 703.9 454.2 704.2 453.7 704.4 453.2 704.6 452.5 704.9 452.1 705.0 451.4 705.4 451.0 705.5 450.3 705.8 449.8 706.0 449.3 706.2 448.6 706.4 448.2 706.6 447.5 706.9 447.0 707.0 446.3 707.2 445.5 707.4 445.2 707.5 444.4 707.7 443.6 707.8 443.2 707.9 442.4 708.0 441.7 708.0 440.9 708.0 440.1 708.0 439.3 708.0 438.6 707.9 437.9 707.8 437.4 707.7 436.6 707.6 436.1 707.4 435.5 707.2 434.9 707.0 434.3 706.8 433.9 706.6 433.1 706.2 432.8 706.0 432.3 705.8 431.6 705.4 431.2 705.2 430.8 705.0 430.1 704.6 429.7 704.3 429.3 704.0 428.8 703.8 428.2 703.4 427.7 703.0 427.3 702.7 426.9 702.4 426.6 702.1 426.2 701.7 425.8 701.3 425.4 700.7 425.2 700.1 425.3 699.3 425.6 698.9 425.9 698.5 426.4 698.1 426.9 697.7 427.3 697.4 427.7 697.1 428.2 696.9 428.9 696.5 429.3 696.2 429.7 696.0 430.4 695.7 430.8 695.4 431.2 695.3 432.0 694.9 432.4 694.7 433.0 694.4 433.5 694.2 433.9 694.0 434.7 693.7 435.1 693.6 435.9 693.3 436.2 693.2 437.0 692.9 437.5 692.8 438.2 692.6 439.0 692.5 439.5 692.4ZM439.7 693.6 440.1 693.6 440.9 693.5 441.7 693.5 442.4 693.5 443.2 693.6 443.6 693.6 444.4 693.7 445.2 693.8 445.9 694.0 446.3 694.0 447.1 694.2 447.9 694.4 448.3 694.6 449.0 694.8 449.4 695.0 450.0 695.3 450.6 695.5 451.0 695.7 451.7 696.1 452.1 696.3 452.5 696.5 453.2 696.9 453.7 697.1 454.1 697.4 454.6 697.7 455.2 698.1 455.6 698.4 456.0 698.7 456.4 699.1 456.8 699.7 456.9 700.1 456.8 700.6 456.4 701.2 456.0 701.6 455.6 701.9 455.2 702.2 454.6 702.6 454.1 702.8 453.7 703.0 453.0 703.4 452.5 703.6 452.1 703.8 451.4 704.1 451.0 704.3 450.3 704.6 449.8 704.8 449.3 705.0 448.6 705.2 448.2 705.4 447.5 705.6 446.9 705.8 446.3 706.0 445.5 706.2 445.2 706.3 444.4 706.4 443.6 706.6 443.2 706.6 442.4 706.7 441.7 706.7 440.9 706.8 440.1 706.8 439.3 706.7 438.6 706.6 438.2 706.6 437.4 706.4 436.6 706.3 436.2 706.2 435.5 705.9 435.1 705.8 434.3 705.5 433.9 705.3 433.3 705.0 432.8 704.7 432.4 704.5 431.7 704.2 431.2 703.9 430.8 703.6 430.4 703.4 429.8 703.0 429.3 702.6 428.9 702.2 428.5 701.9 428.1 701.4 427.8 700.9 427.6 700.5 427.6 699.7 427.8 699.3 428.1 698.8 428.5 698.4 428.9 698.1 429.4 697.7 430.0 697.3 430.4 697.0 430.8 696.8 431.4 696.5 432.0 696.2 432.4 696.0 433.1 695.7 433.5 695.4 434.0 695.3 434.7 695.0 435.1 694.8 435.9 694.5 436.2 694.4 437.0 694.2 437.5 694.0 438.2 693.9 439.0 693.7 439.7 693.6ZM439.6 694.8 440.1 694.8 440.9 694.7 441.7 694.7 442.4 694.7 443.2 694.8 443.7 694.8 444.4 694.9 445.2 695.0 445.9 695.2 446.3 695.3 447.1 695.5 447.6 695.7 448.3 695.9 448.7 696.1 449.4 696.4 449.8 696.5 450.5 696.9 451.0 697.1 451.4 697.4 451.9 697.7 452.5 698.1 452.9 698.4 453.3 698.8 453.7 699.3 453.9 699.7 453.9 700.5 453.7 700.9 453.3 701.4 452.9 701.7 452.3 702.1 451.7 702.5 451.4 702.7 450.9 703.0 450.2 703.3 449.8 703.5 449.1 703.8 448.6 704.0 448.1 704.2 447.5 704.4 446.9 704.6 446.3 704.8 445.5 705.0 445.2 705.1 444.4 705.2 443.6 705.4 443.2 705.4 442.4 705.5 441.7 705.5 440.9 705.5 440.1 705.5 439.3 705.5 438.6 705.4 438.2 705.3 437.4 705.2 436.6 705.0 436.2 704.9 435.5 704.6 435.1 704.5 434.4 704.2 433.9 704.0 433.5 703.8 432.8 703.4 432.4 703.1 432.0 702.8 431.6 702.5 431.1 702.1 430.7 701.7 430.3 701.3 430.0 700.8 429.9 700.1 430.0 699.6 430.4 698.9 430.8 698.5 431.2 698.2 431.6 697.9 432.0 697.6 432.5 697.3 433.1 696.9 433.5 696.7 434.1 696.5 434.7 696.2 435.1 696.0 435.9 695.7 436.2 695.6 437.0 695.4 437.4 695.3 438.2 695.1 439.0 694.9 439.6 694.8ZM439.5 696.1 440.1 696.0 440.9 695.9 441.7 695.9 442.4 696.0 443.2 696.0 443.7 696.1 444.4 696.2 445.2 696.3 445.8 696.5 446.3 696.6 447.1 696.9 447.5 697.0 448.1 697.3 448.6 697.5 449.0 697.8 449.6 698.1 450.1 698.5 450.6 698.9 450.9 699.3 451.0 699.7 451.0 700.5 450.8 700.9 450.4 701.3 449.9 701.7 449.4 702.1 449.0 702.3 448.6 702.6 447.9 702.9 447.5 703.1 446.7 703.4 446.3 703.5 445.5 703.7 445.2 703.8 444.4 704.0 443.6 704.1 443.2 704.2 442.4 704.3 441.7 704.3 440.9 704.3 440.1 704.3 439.3 704.2 438.8 704.2 438.2 704.1 437.4 703.9 437.0 703.8 436.2 703.5 435.8 703.4 435.1 703.0 434.7 702.8 434.2 702.6 433.6 702.1 433.1 701.8 432.8 701.3 432.5 700.9 432.4 700.5 432.4 699.9 432.6 699.3 432.9 698.9 433.3 698.5 433.9 698.1 434.3 697.8 434.7 697.6 435.3 697.3 435.9 697.0 436.3 696.9 437.0 696.6 437.5 696.5 438.2 696.3 439.0 696.1 439.5 696.1ZM440.6 697.3 441.3 697.2 442.1 697.3 442.4 697.3 443.2 697.4 444.0 697.5 444.8 697.7 445.2 697.8 445.9 698.1 446.3 698.3 446.8 698.5 447.3 698.9 447.7 699.3 447.9 699.7 447.9 700.5 447.6 700.9 447.2 701.3 446.7 701.7 446.3 701.9 445.8 702.1 445.2 702.4 444.6 702.6 444.0 702.7 443.2 702.9 442.5 703.0 442.1 703.0 441.3 703.0 440.5 703.0 439.9 703.0 439.3 702.9 438.6 702.7 437.9 702.6 437.4 702.4 436.8 702.1 436.2 701.8 435.9 701.6 435.5 701.2 435.1 700.6 435.0 700.1 435.1 699.7 435.5 699.2 435.9 698.8 436.3 698.5 437.0 698.1 437.4 698.0 438.2 697.7 438.6 697.6 439.3 697.4 440.1 697.3 440.6 697.3Z"/>
<ellipse class="c" cx="439.4" cy="712.6" rx="1.5" ry="1.3"/>
<path class="c" d="M555.8 635.7 556.5 635.6 557.4 635.6 558.3 635.6 558.7 635.7 559.6 635.8 560.4 636.0 560.9 636.2 561.5 636.4 562.2 636.6 562.6 636.8 563.2 637.1 563.9 637.4 564.3 637.7 564.8 638.0 565.2 638.3 565.6 638.5 566.1 638.9 566.5 639.2 567.0 639.6 567.4 639.9 567.9 640.3 568.3 640.6 568.7 641.0 569.2 641.3 569.6 641.7 570.0 642.0 570.4 642.4 570.8 642.7 571.2 643.3 571.5 643.8 571.5 644.5 571.2 644.9 570.8 645.3 570.4 645.6 569.8 645.9 569.1 646.2 568.6 646.3 568.0 646.6 567.3 646.8 566.9 647.0 566.1 647.3 565.6 647.4 565.1 647.6 564.3 647.9 563.9 648.0 563.0 648.3 562.6 648.4 561.8 648.7 561.3 648.8 560.6 649.0 560.0 649.2 559.4 649.4 558.7 649.6 558.1 649.7 557.4 649.9 556.8 650.1 556.1 650.3 555.5 650.4 554.8 650.6 554.0 650.8 553.5 650.9 552.7 651.0 551.8 651.1 551.4 651.2 550.5 651.2 549.6 651.2 548.8 651.1 548.3 651.1 547.5 651.0 546.7 650.8 546.2 650.7 545.5 650.4 544.9 650.3 544.5 650.1 543.6 649.8 543.2 649.6 542.7 649.4 541.9 649.0 541.4 648.9 541.0 648.7 540.2 648.3 539.7 648.1 539.3 647.9 538.5 647.6 538.0 647.4 537.5 647.2 536.8 646.9 536.2 646.7 535.8 646.5 535.3 646.2 534.5 645.9 534.1 645.6 533.7 645.4 533.2 645.1 532.8 644.8 532.4 644.4 531.9 643.9 531.7 643.4 531.8 642.7 532.0 642.4 532.4 641.9 532.8 641.5 533.2 641.2 533.7 640.9 534.2 640.6 534.9 640.3 535.4 640.0 535.8 639.9 536.7 639.6 537.1 639.4 537.8 639.2 538.4 639.0 539.0 638.9 539.7 638.7 540.3 638.5 541.0 638.3 541.5 638.1 542.3 637.9 542.7 637.8 543.6 637.6 544.0 637.4 544.9 637.2 545.5 637.1 546.2 636.9 547.0 636.8 547.5 636.7 548.3 636.6 549.2 636.5 550.1 636.4 550.5 636.4 551.4 636.3 552.2 636.1 553.1 636.0 553.5 636.0 554.4 635.9 555.3 635.7 555.8 635.7ZM555.4 637.4 556.1 637.4 557.0 637.4 557.8 637.4 558.3 637.5 559.1 637.6 560.0 637.7 560.4 637.8 561.3 638.1 561.7 638.2 562.4 638.5 563.0 638.8 563.5 639.1 563.9 639.3 564.3 639.6 564.8 639.9 565.2 640.3 565.6 640.7 566.1 641.1 566.5 641.6 566.8 642.0 567.0 642.4 567.3 643.1 567.2 643.8 566.9 644.4 566.5 644.8 566.1 645.2 565.6 645.5 565.2 645.7 564.8 645.9 564.1 646.2 563.5 646.5 563.0 646.7 562.4 646.9 561.7 647.2 561.3 647.3 560.4 647.6 560.0 647.7 559.1 647.9 558.7 648.0 557.8 648.3 557.4 648.4 556.5 648.5 555.9 648.7 555.3 648.8 554.4 649.0 553.9 649.0 553.1 649.1 552.2 649.2 551.4 649.3 550.5 649.3 549.6 649.3 548.8 649.3 547.9 649.2 547.0 649.1 546.6 649.0 545.8 648.8 545.3 648.7 544.5 648.5 544.0 648.3 543.2 648.0 542.7 647.9 542.1 647.6 541.4 647.3 541.0 647.2 540.5 646.9 539.7 646.6 539.3 646.3 538.8 646.1 538.4 645.9 537.8 645.5 537.3 645.2 536.9 644.8 536.5 644.5 536.2 644.1 536.1 643.4 536.2 642.7 536.5 642.4 536.8 642.0 537.3 641.7 537.9 641.3 538.4 641.1 538.8 640.9 539.4 640.6 540.1 640.3 540.6 640.2 541.3 639.9 541.9 639.7 542.4 639.6 543.2 639.3 543.6 639.2 544.5 638.9 544.9 638.8 545.8 638.5 546.2 638.4 547.0 638.3 547.7 638.1 548.3 638.0 549.2 637.9 550.1 637.8 550.5 637.8 551.4 637.7 552.2 637.7 553.1 637.6 554.0 637.5 554.8 637.5 555.4 637.4ZM549.1 639.6 549.6 639.5 550.5 639.4 551.4 639.4 552.2 639.3 553.1 639.3 554.0 639.3 554.8 639.3 555.7 639.3 556.5 639.3 557.4 639.3 558.3 639.4 559.1 639.6 559.6 639.7 560.4 639.9 560.9 640.1 561.3 640.3 562.0 640.6 562.5 641.0 562.9 641.3 563.2 641.7 563.5 642.0 563.8 642.7 563.7 643.4 563.5 643.9 563.0 644.4 562.6 644.7 562.2 645.0 561.7 645.2 561.0 645.5 560.4 645.8 560.0 645.9 559.1 646.2 558.7 646.3 557.8 646.5 557.4 646.6 556.5 646.8 556.0 646.9 555.3 647.1 554.4 647.2 553.7 647.3 553.1 647.3 552.2 647.4 551.4 647.5 550.5 647.5 549.6 647.5 548.8 647.4 547.9 647.4 547.3 647.3 546.6 647.2 545.8 647.0 545.3 646.9 544.5 646.6 544.0 646.5 543.4 646.2 542.7 645.9 542.3 645.7 541.9 645.5 541.4 645.2 541.0 644.8 540.6 644.2 540.4 643.8 540.5 643.1 540.8 642.7 541.1 642.4 541.6 642.0 542.2 641.7 542.7 641.4 543.2 641.2 543.7 641.0 544.5 640.7 544.9 640.5 545.7 640.3 546.2 640.1 547.0 639.9 547.5 639.8 548.3 639.7 549.1 639.6ZM550.0 641.7 550.5 641.6 551.4 641.6 552.2 641.6 553.1 641.6 554.0 641.6 554.4 641.7 555.3 641.8 556.1 642.0 556.5 642.1 557.3 642.4 557.7 642.7 557.7 643.4 557.4 643.8 556.8 644.1 556.1 644.4 555.7 644.5 554.8 644.7 554.4 644.8 553.5 645.0 552.7 645.1 552.0 645.2 551.4 645.2 550.5 645.2 549.6 645.2 549.2 645.2 548.3 645.0 547.5 644.8 547.0 644.7 546.6 644.5 546.2 644.1 546.0 643.4 546.2 643.1 546.6 642.7 547.2 642.4 547.9 642.1 548.3 642.0 549.2 641.8 550.0 641.7Z"/>
<circle cx="552.3" cy="643.3" r=".6" fill="#666"/>
<circle cx="93.3" cy="752.1" r=".6" fill="#666"/>
<path class="cl" d="M320.2 747.9L323 745.2L327 742.4L335.8 742.3L340 744.6L343.6 747.3L341 749.8L337.2 752.1L325.2 752.8L322.6 750.4Z"/>
<ellipse class="cl" cx="333" cy="748.2" rx="7.9" ry="3.2"/>
<ellipse class="cl" cx="333.2" cy="748.4" rx="6.6" ry="2.3"/>
<ellipse cx="59.6" cy="675.9" rx="6" ry="1.6" fill="none" stroke="#ececec" stroke-width=".7"/>
<text x="207.20" y="500.00" font-size="21.80" textLength="75.73" lengthAdjust="spacingAndGlyphs">W118 δ</text>
<text x="267.73" y="671.10" font-size="21.80" textLength="55.70" lengthAdjust="spacingAndGlyphs">F41 ε</text>
<text x="236.45" y="729.30" font-size="21.80" textLength="55.28" lengthAdjust="spacingAndGlyphs">F16 ε</text>
<text x="69.15" y="734.20" font-size="21.80" textLength="55.18" lengthAdjust="spacingAndGlyphs">F35 ε</text>
<text x="15.56" y="779.80" font-size="21.80" textLength="67.37" lengthAdjust="spacingAndGlyphs">F107 ε</text>
<text x="105.83" y="791.90" font-size="21.80" textLength="55.70" lengthAdjust="spacingAndGlyphs">F99 ε</text>
<text x="163.53" y="746.30" font-size="21.80" textLength="55.70" lengthAdjust="spacingAndGlyphs">F48 ε</text>
<text x="371.44" y="701.50" font-size="21.80" textLength="42.89" lengthAdjust="spacingAndGlyphs">F4 ε</text>
<text x="419.82" y="686.30" font-size="21.80" textLength="56.01" lengthAdjust="spacingAndGlyphs">F55 ε</text>
<text x="474.23" y="651.10" font-size="21.80" textLength="55.70" lengthAdjust="spacingAndGlyphs">F98 ε</text>
</svg></body></html>
